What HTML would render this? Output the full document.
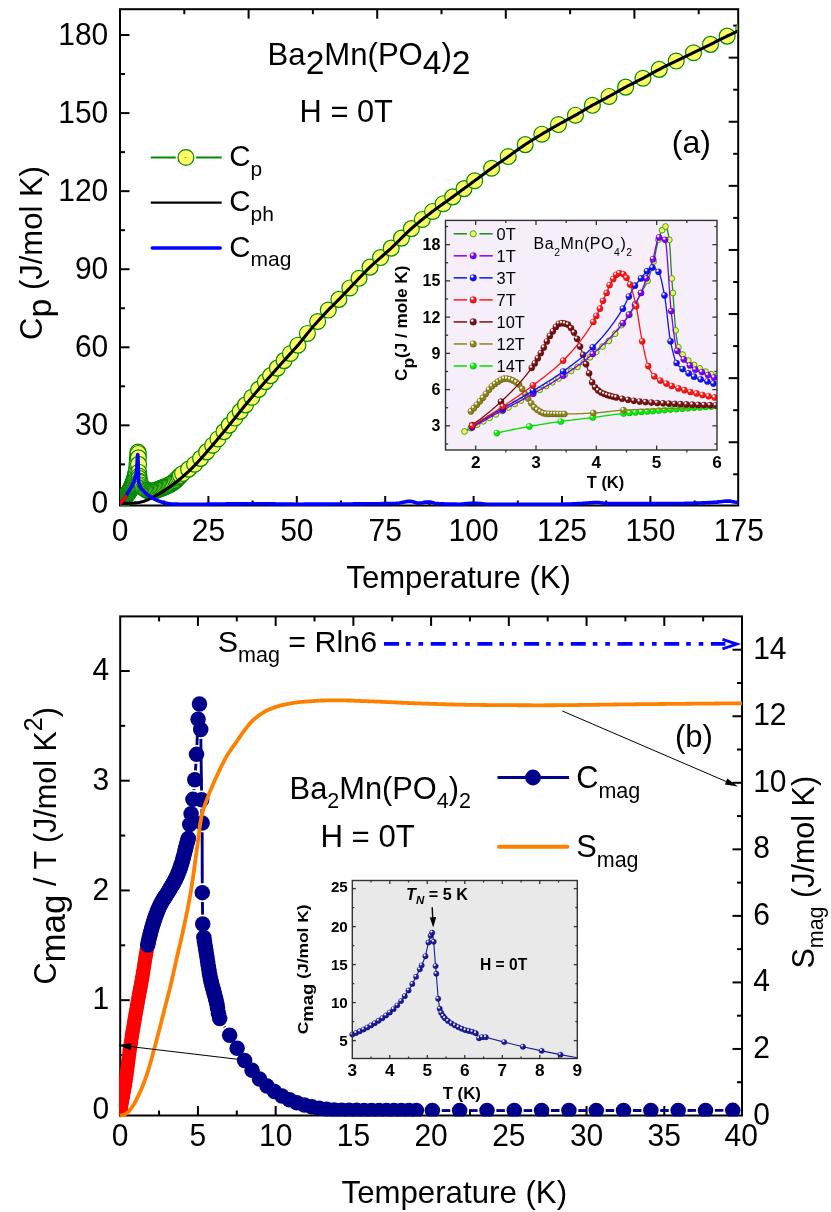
<!DOCTYPE html>
<html><head><meta charset="utf-8"><title>Ba2Mn(PO4)2 heat capacity</title>
<style>
html,body{margin:0;padding:0;background:#fff;}
svg{display:block;will-change:transform;}
text{font-family:"Liberation Sans",sans-serif;}
</style></head><body>
<svg width="831" height="1212" viewBox="0 0 831 1212">
<defs>
<clipPath id="clipA"><rect x="120" y="9.2" width="617.4" height="496.9"/></clipPath>
<radialGradient id="p1" cx="0.38" cy="0.34" r="0.7" fx="0.32" fy="0.27"><stop offset="0" stop-color="#ffffff"/><stop offset="0.12" stop-color="#ffffff"/><stop offset="0.42" stop-color="#8000FF"/><stop offset="0.8" stop-color="#8000FF"/><stop offset="1" stop-color="#4B0096"/></radialGradient>
<radialGradient id="p3" cx="0.38" cy="0.34" r="0.7" fx="0.32" fy="0.27"><stop offset="0" stop-color="#ffffff"/><stop offset="0.12" stop-color="#ffffff"/><stop offset="0.42" stop-color="#1010FF"/><stop offset="0.8" stop-color="#1010FF"/><stop offset="1" stop-color="#0000a0"/></radialGradient>
<radialGradient id="p7" cx="0.38" cy="0.34" r="0.7" fx="0.32" fy="0.27"><stop offset="0" stop-color="#ffffff"/><stop offset="0.12" stop-color="#ffffff"/><stop offset="0.42" stop-color="#FF1414"/><stop offset="0.8" stop-color="#FF1414"/><stop offset="1" stop-color="#b00000"/></radialGradient>
<radialGradient id="p10" cx="0.38" cy="0.34" r="0.7" fx="0.32" fy="0.27"><stop offset="0" stop-color="#ffffff"/><stop offset="0.12" stop-color="#ffffff"/><stop offset="0.42" stop-color="#7A1010"/><stop offset="0.8" stop-color="#7A1010"/><stop offset="1" stop-color="#400000"/></radialGradient>
<radialGradient id="p12" cx="0.38" cy="0.34" r="0.7" fx="0.32" fy="0.27"><stop offset="0" stop-color="#ffffff"/><stop offset="0.12" stop-color="#ffffff"/><stop offset="0.42" stop-color="#8C8418"/><stop offset="0.8" stop-color="#8C8418"/><stop offset="1" stop-color="#5c5600"/></radialGradient>
<radialGradient id="p14" cx="0.38" cy="0.34" r="0.7" fx="0.32" fy="0.27"><stop offset="0" stop-color="#ffffff"/><stop offset="0.12" stop-color="#ffffff"/><stop offset="0.42" stop-color="#00F000"/><stop offset="0.8" stop-color="#00F000"/><stop offset="1" stop-color="#00A000"/></radialGradient>
<radialGradient id="nav" cx="0.38" cy="0.34" r="0.7" fx="0.32" fy="0.27"><stop offset="0" stop-color="#ffffff"/><stop offset="0.12" stop-color="#ffffff"/><stop offset="0.42" stop-color="#1A1AA0"/><stop offset="0.8" stop-color="#1A1AA0"/><stop offset="1" stop-color="#000060"/></radialGradient>
<clipPath id="clipIA"><rect x="445.5" y="220.4" width="271.5" height="229.6"/></clipPath>
<clipPath id="clipB"><rect x="120.2" y="616.4" width="633.8" height="503.1" transform="translate(-1,0)"/></clipPath>
<clipPath id="clipB2"><rect x="119.2" y="616.4" width="622.8" height="500.1"/></clipPath>

</defs>
<rect x="0" y="0" width="831" height="1212" fill="#fff"/>
<g id="panelA">
<rect x="120" y="9.2" width="618.2" height="496.3" fill="none" stroke="#000" stroke-width="2"/>
<line x1="120" y1="503.4" x2="129.5" y2="503.4" stroke="#000" stroke-width="2" />
<line x1="120" y1="464.37" x2="125" y2="464.37" stroke="#000" stroke-width="2" />
<line x1="120" y1="425.34" x2="129.5" y2="425.34" stroke="#000" stroke-width="2" />
<line x1="120" y1="386.31" x2="125" y2="386.31" stroke="#000" stroke-width="2" />
<line x1="120" y1="347.28" x2="129.5" y2="347.28" stroke="#000" stroke-width="2" />
<line x1="120" y1="308.25" x2="125" y2="308.25" stroke="#000" stroke-width="2" />
<line x1="120" y1="269.22" x2="129.5" y2="269.22" stroke="#000" stroke-width="2" />
<line x1="120" y1="230.19" x2="125" y2="230.19" stroke="#000" stroke-width="2" />
<line x1="120" y1="191.16" x2="129.5" y2="191.16" stroke="#000" stroke-width="2" />
<line x1="120" y1="152.13" x2="125" y2="152.13" stroke="#000" stroke-width="2" />
<line x1="120" y1="113.1" x2="129.5" y2="113.1" stroke="#000" stroke-width="2" />
<line x1="120" y1="74.07" x2="125" y2="74.07" stroke="#000" stroke-width="2" />
<line x1="120" y1="35.04" x2="129.5" y2="35.04" stroke="#000" stroke-width="2" />
<line x1="738.2" y1="25.6" x2="733.2" y2="25.6" stroke="#000" stroke-width="2" />
<line x1="738.2" y1="57.65" x2="728.7" y2="57.65" stroke="#000" stroke-width="2" />
<line x1="738.2" y1="89.7" x2="733.2" y2="89.7" stroke="#000" stroke-width="2" />
<line x1="738.2" y1="121.75" x2="728.7" y2="121.75" stroke="#000" stroke-width="2" />
<line x1="738.2" y1="153.8" x2="733.2" y2="153.8" stroke="#000" stroke-width="2" />
<line x1="738.2" y1="185.85" x2="728.7" y2="185.85" stroke="#000" stroke-width="2" />
<line x1="738.2" y1="217.9" x2="733.2" y2="217.9" stroke="#000" stroke-width="2" />
<line x1="738.2" y1="249.95" x2="728.7" y2="249.95" stroke="#000" stroke-width="2" />
<line x1="738.2" y1="282" x2="733.2" y2="282" stroke="#000" stroke-width="2" />
<line x1="738.2" y1="314.05" x2="728.7" y2="314.05" stroke="#000" stroke-width="2" />
<line x1="738.2" y1="346.1" x2="733.2" y2="346.1" stroke="#000" stroke-width="2" />
<line x1="738.2" y1="378.15" x2="728.7" y2="378.15" stroke="#000" stroke-width="2" />
<line x1="738.2" y1="410.2" x2="733.2" y2="410.2" stroke="#000" stroke-width="2" />
<line x1="738.2" y1="442.25" x2="728.7" y2="442.25" stroke="#000" stroke-width="2" />
<line x1="738.2" y1="474.3" x2="733.2" y2="474.3" stroke="#000" stroke-width="2" />
<line x1="164.2" y1="505.5" x2="164.2" y2="500.5" stroke="#000" stroke-width="2" />
<line x1="208.4" y1="505.5" x2="208.4" y2="496" stroke="#000" stroke-width="2" />
<line x1="252.6" y1="505.5" x2="252.6" y2="500.5" stroke="#000" stroke-width="2" />
<line x1="296.8" y1="505.5" x2="296.8" y2="496" stroke="#000" stroke-width="2" />
<line x1="341" y1="505.5" x2="341" y2="500.5" stroke="#000" stroke-width="2" />
<line x1="385.2" y1="505.5" x2="385.2" y2="496" stroke="#000" stroke-width="2" />
<line x1="429.4" y1="505.5" x2="429.4" y2="500.5" stroke="#000" stroke-width="2" />
<line x1="473.6" y1="505.5" x2="473.6" y2="496" stroke="#000" stroke-width="2" />
<line x1="517.8" y1="505.5" x2="517.8" y2="500.5" stroke="#000" stroke-width="2" />
<line x1="562" y1="505.5" x2="562" y2="496" stroke="#000" stroke-width="2" />
<line x1="606.2" y1="505.5" x2="606.2" y2="500.5" stroke="#000" stroke-width="2" />
<line x1="650.4" y1="505.5" x2="650.4" y2="496" stroke="#000" stroke-width="2" />
<line x1="694.6" y1="505.5" x2="694.6" y2="500.5" stroke="#000" stroke-width="2" />
<line x1="184.3" y1="9.2" x2="184.3" y2="14.2" stroke="#000" stroke-width="2" />
<line x1="248.6" y1="9.2" x2="248.6" y2="18.7" stroke="#000" stroke-width="2" />
<line x1="312.9" y1="9.2" x2="312.9" y2="14.2" stroke="#000" stroke-width="2" />
<line x1="377.2" y1="9.2" x2="377.2" y2="18.7" stroke="#000" stroke-width="2" />
<line x1="441.5" y1="9.2" x2="441.5" y2="14.2" stroke="#000" stroke-width="2" />
<line x1="505.8" y1="9.2" x2="505.8" y2="18.7" stroke="#000" stroke-width="2" />
<line x1="570.1" y1="9.2" x2="570.1" y2="14.2" stroke="#000" stroke-width="2" />
<line x1="634.4" y1="9.2" x2="634.4" y2="18.7" stroke="#000" stroke-width="2" />
<line x1="698.7" y1="9.2" x2="698.7" y2="14.2" stroke="#000" stroke-width="2" />
<g clip-path="url(#clipA)">
<polyline points="121.41,501.84 121.77,501.37 122.12,500.84 122.48,500.3 122.83,499.74 123.18,499.21 123.54,498.72 123.89,498.27 124.24,497.84 124.6,497.43 124.95,497.04 125.3,496.65 125.66,496.26 126.01,495.87 126.36,495.45 126.72,495.02 127.07,494.55 127.43,494.07 127.78,493.56 128.13,493.05 128.49,492.51 128.84,491.96 129.19,491.38 129.55,490.78 129.9,490.16 130.25,489.51 130.61,488.83 130.96,488.12 131.32,487.37 131.67,486.59 132.02,485.77 132.38,484.91 132.73,484.01 133.08,483.07 133.44,482.08 133.79,481.05 134.14,479.98 134.5,478.86 134.85,477.67 135.2,476.36 135.56,474.89 135.91,473.22 136.27,471.2 136.62,468.53 136.97,464.37 137.33,459.69 137.68,455.52 137.96,452.01 138.21,453.44 138.39,457.87 138.56,464.37 138.74,472.18 138.92,476.01 139.09,478.42 139.45,481.02 139.8,482.28 141.07,484.97 142.35,486.68 143.62,487.96 144.89,488.93 146.17,489.74 147.44,490.38 148.71,490.75 149.99,491 151.26,491.15 152.53,491.14 153.8,490.97 155.08,490.71 156.35,490.28 157.62,489.61 158.9,489.07 160.17,488.62 161.44,488.17 162.71,487.67 163.99,487.15 165.26,486.62 166.53,486.07 167.81,485.5 169.08,484.88 170.35,484.22 171.63,483.5 172.9,482.71 174.17,481.75 175.44,480.61 176.72,479.35 177.99,478.02 179.26,476.67 180.54,475.37 182.59,473.48 188.6,469.13 194.61,464.27 200.62,458.36 206.63,451.88 212.64,445.19 217.95,438.94 223.96,431.59 229.26,425.08 234.92,418.05 240.22,411.4 245.53,404.86 251.89,397.25 258.61,389.38 265.33,381.63 270.63,375.62 277.35,368.1 284.07,360.61 290.44,353.52 297.86,345.2 307.41,333.47 317.66,321.49 328.27,310.07 338.88,299.4 349.84,287.95 359.03,278.28 370,267.14 380.6,257.56 391.21,248.14 401.47,238.09 411.37,228.63 422.33,219.44 432.58,211.46 443.19,203.71 452.74,196.88 464.05,188.58 474.66,180.75 491.63,168.26 508.25,156.55 525.23,144.58 541.84,134.18 558.46,124.55 575.44,115.18 592.41,105.29 609.03,96.45 625.65,87.08 642.97,78.23 659.24,69.39 676.21,61.06 693.54,52.73 710.51,44.41 727.13,36.08 743.75,28.43" fill="none" stroke="#058805" stroke-width="1.5" stroke-linejoin="round" />
<g fill="#FFFF66" stroke="#058805" stroke-width="1.2">
<circle cx="121.41" cy="501.84" r="7.95"/>
<circle cx="121.77" cy="501.37" r="7.95"/>
<circle cx="122.12" cy="500.84" r="7.95"/>
<circle cx="122.48" cy="500.3" r="7.95"/>
<circle cx="122.83" cy="499.74" r="7.95"/>
<circle cx="123.18" cy="499.21" r="7.95"/>
<circle cx="123.54" cy="498.72" r="7.95"/>
<circle cx="123.89" cy="498.27" r="7.95"/>
<circle cx="124.24" cy="497.84" r="7.95"/>
<circle cx="124.6" cy="497.43" r="7.95"/>
<circle cx="124.95" cy="497.04" r="7.95"/>
<circle cx="125.3" cy="496.65" r="7.95"/>
<circle cx="125.66" cy="496.26" r="7.95"/>
<circle cx="126.01" cy="495.87" r="7.95"/>
<circle cx="126.36" cy="495.45" r="7.95"/>
<circle cx="126.72" cy="495.02" r="7.95"/>
<circle cx="127.07" cy="494.55" r="7.95"/>
<circle cx="127.43" cy="494.07" r="7.95"/>
<circle cx="127.78" cy="493.56" r="7.95"/>
<circle cx="128.13" cy="493.05" r="7.95"/>
<circle cx="128.49" cy="492.51" r="7.95"/>
<circle cx="128.84" cy="491.96" r="7.95"/>
<circle cx="129.19" cy="491.38" r="7.95"/>
<circle cx="129.55" cy="490.78" r="7.95"/>
<circle cx="129.9" cy="490.16" r="7.95"/>
<circle cx="130.25" cy="489.51" r="7.95"/>
<circle cx="130.61" cy="488.83" r="7.95"/>
<circle cx="130.96" cy="488.12" r="7.95"/>
<circle cx="131.32" cy="487.37" r="7.95"/>
<circle cx="131.67" cy="486.59" r="7.95"/>
<circle cx="132.02" cy="485.77" r="7.95"/>
<circle cx="132.38" cy="484.91" r="7.95"/>
<circle cx="132.73" cy="484.01" r="7.95"/>
<circle cx="133.08" cy="483.07" r="7.95"/>
<circle cx="133.44" cy="482.08" r="7.95"/>
<circle cx="133.79" cy="481.05" r="7.95"/>
<circle cx="134.14" cy="479.98" r="7.95"/>
<circle cx="134.5" cy="478.86" r="7.95"/>
<circle cx="134.85" cy="477.67" r="7.95"/>
<circle cx="135.2" cy="476.36" r="7.95"/>
<circle cx="135.56" cy="474.89" r="7.95"/>
<circle cx="135.91" cy="473.22" r="7.95"/>
<circle cx="136.27" cy="471.2" r="7.95"/>
<circle cx="136.62" cy="468.53" r="7.95"/>
<circle cx="136.97" cy="464.37" r="7.95"/>
<circle cx="137.33" cy="459.69" r="7.95"/>
<circle cx="137.68" cy="455.52" r="7.95"/>
<circle cx="137.96" cy="452.01" r="7.95"/>
<circle cx="138.21" cy="453.44" r="7.95"/>
<circle cx="138.39" cy="457.87" r="7.95"/>
<circle cx="138.56" cy="464.37" r="7.95"/>
<circle cx="138.74" cy="472.18" r="7.95"/>
<circle cx="138.92" cy="476.01" r="7.95"/>
<circle cx="139.09" cy="478.42" r="7.95"/>
<circle cx="139.45" cy="481.02" r="7.95"/>
<circle cx="139.8" cy="482.28" r="7.95"/>
<circle cx="141.07" cy="484.97" r="7.95"/>
<circle cx="142.35" cy="486.68" r="7.95"/>
<circle cx="143.62" cy="487.96" r="7.95"/>
<circle cx="144.89" cy="488.93" r="7.95"/>
<circle cx="146.17" cy="489.74" r="7.95"/>
<circle cx="147.44" cy="490.38" r="7.95"/>
<circle cx="148.71" cy="490.75" r="7.95"/>
<circle cx="149.99" cy="491" r="7.95"/>
<circle cx="151.26" cy="491.15" r="7.95"/>
<circle cx="152.53" cy="491.14" r="7.95"/>
<circle cx="153.8" cy="490.97" r="7.95"/>
<circle cx="155.08" cy="490.71" r="7.95"/>
<circle cx="156.35" cy="490.28" r="7.95"/>
<circle cx="157.62" cy="489.61" r="7.95"/>
<circle cx="158.9" cy="489.07" r="7.95"/>
<circle cx="160.17" cy="488.62" r="7.95"/>
<circle cx="161.44" cy="488.17" r="7.95"/>
<circle cx="162.71" cy="487.67" r="7.95"/>
<circle cx="163.99" cy="487.15" r="7.95"/>
<circle cx="165.26" cy="486.62" r="7.95"/>
<circle cx="166.53" cy="486.07" r="7.95"/>
<circle cx="167.81" cy="485.5" r="7.95"/>
<circle cx="169.08" cy="484.88" r="7.95"/>
<circle cx="170.35" cy="484.22" r="7.95"/>
<circle cx="171.63" cy="483.5" r="7.95"/>
<circle cx="172.9" cy="482.71" r="7.95"/>
<circle cx="174.17" cy="481.75" r="7.95"/>
<circle cx="175.44" cy="480.61" r="7.95"/>
<circle cx="176.72" cy="479.35" r="7.95"/>
<circle cx="177.99" cy="478.02" r="7.95"/>
<circle cx="179.26" cy="476.67" r="7.95"/>
<circle cx="180.54" cy="475.37" r="7.95"/>
<circle cx="182.59" cy="473.48" r="7.95"/>
<circle cx="188.6" cy="469.13" r="7.95"/>
<circle cx="194.61" cy="464.27" r="7.95"/>
<circle cx="200.62" cy="458.36" r="7.95"/>
<circle cx="206.63" cy="451.88" r="7.95"/>
<circle cx="212.64" cy="445.19" r="7.95"/>
<circle cx="217.95" cy="438.94" r="7.95"/>
<circle cx="223.96" cy="431.59" r="7.95"/>
<circle cx="229.26" cy="425.08" r="7.95"/>
<circle cx="234.92" cy="418.05" r="7.95"/>
<circle cx="240.22" cy="411.4" r="7.95"/>
<circle cx="245.53" cy="404.86" r="7.95"/>
<circle cx="251.89" cy="397.25" r="7.95"/>
<circle cx="258.61" cy="389.38" r="7.95"/>
<circle cx="265.33" cy="381.63" r="7.95"/>
<circle cx="270.63" cy="375.62" r="7.95"/>
<circle cx="277.35" cy="368.1" r="7.95"/>
<circle cx="284.07" cy="360.61" r="7.95"/>
<circle cx="290.44" cy="353.52" r="7.95"/>
<circle cx="297.86" cy="345.2" r="7.95"/>
<circle cx="307.41" cy="333.47" r="7.95"/>
<circle cx="317.66" cy="321.49" r="7.95"/>
<circle cx="328.27" cy="310.07" r="7.95"/>
<circle cx="338.88" cy="299.4" r="7.95"/>
<circle cx="349.84" cy="287.95" r="7.95"/>
<circle cx="359.03" cy="278.28" r="7.95"/>
<circle cx="370" cy="267.14" r="7.95"/>
<circle cx="380.6" cy="257.56" r="7.95"/>
<circle cx="391.21" cy="248.14" r="7.95"/>
<circle cx="401.47" cy="238.09" r="7.95"/>
<circle cx="411.37" cy="228.63" r="7.95"/>
<circle cx="422.33" cy="219.44" r="7.95"/>
<circle cx="432.58" cy="211.46" r="7.95"/>
<circle cx="443.19" cy="203.71" r="7.95"/>
<circle cx="452.74" cy="196.88" r="7.95"/>
<circle cx="464.05" cy="188.58" r="7.95"/>
<circle cx="474.66" cy="180.75" r="7.95"/>
<circle cx="491.63" cy="168.26" r="7.95"/>
<circle cx="508.25" cy="156.55" r="7.95"/>
<circle cx="525.23" cy="144.58" r="7.95"/>
<circle cx="541.84" cy="134.18" r="7.95"/>
<circle cx="558.46" cy="124.55" r="7.95"/>
<circle cx="575.44" cy="115.18" r="7.95"/>
<circle cx="592.41" cy="105.29" r="7.95"/>
<circle cx="609.03" cy="96.45" r="7.95"/>
<circle cx="625.65" cy="87.08" r="7.95"/>
<circle cx="642.97" cy="78.23" r="7.95"/>
<circle cx="659.24" cy="69.39" r="7.95"/>
<circle cx="676.21" cy="61.06" r="7.95"/>
<circle cx="693.54" cy="52.73" r="7.95"/>
<circle cx="710.51" cy="44.41" r="7.95"/>
<circle cx="727.13" cy="36.08" r="7.95"/>
<circle cx="743.75" cy="28.43" r="7.95"/>
</g>
<polyline points="120,503.4 121.55,503.4 123.11,503.39 124.66,503.37 126.22,503.35 127.77,503.33 129.33,503.3 130.88,503.26 132.44,503.18 133.99,503.06 135.54,502.89 137.1,502.69 138.65,502.48 140.21,502.19 141.76,501.83 143.32,501.42 144.87,500.93 146.43,500.31 147.98,499.63 149.53,498.94 151.09,498.2 152.64,497.43 154.2,496.62 155.75,495.77 157.31,494.89 158.86,493.98 160.41,493.03 161.97,492.06 163.52,491.07 165.08,490.04 166.63,488.99 168.19,487.92 169.74,486.82 171.3,485.7 172.85,484.56 174.4,483.4 175.96,482.21 177.51,480.98 179.07,479.73 180.62,478.44 182.18,477.13 183.73,475.78 185.29,474.41 186.84,473.01 188.39,471.57 189.95,470.11 191.5,468.62 193.06,467.1 194.61,465.53 196.17,463.9 197.72,462.22 199.28,460.51 200.83,458.76 202.38,456.99 203.94,455.2 205.49,453.4 207.05,451.59 208.6,449.79 210.16,447.99 211.71,446.19 213.27,444.37 214.82,442.54 216.37,440.69 217.93,438.84 219.48,436.97 221.04,435.09 222.59,433.21 224.15,431.32 225.7,429.43 227.26,427.53 228.81,425.64 230.36,423.73 231.92,421.8 233.47,419.86 235.03,417.91 236.58,415.96 238.14,414.01 239.69,412.06 241.24,410.13 242.8,408.2 244.35,406.29 245.91,404.4 247.46,402.53 249.02,400.67 250.57,398.81 252.13,396.97 253.68,395.14 255.23,393.31 256.79,391.5 258.34,389.69 259.9,387.88 261.45,386.09 263.01,384.29 264.56,382.51 266.12,380.73 267.67,378.96 269.22,377.2 270.78,375.45 272.33,373.71 273.89,371.97 275.44,370.23 277,368.49 278.55,366.75 280.11,365.02 281.66,363.29 283.21,361.56 284.77,359.83 286.32,358.1 287.88,356.37 289.43,354.64 290.99,352.91 292.54,351.19 294.1,349.46 295.65,347.73 297.2,345.96 298.76,344.14 300.31,342.28 301.87,340.38 303.42,338.45 304.98,336.5 306.53,334.56 308.09,332.63 309.64,330.73 311.19,328.87 312.75,327.05 314.3,325.27 315.86,323.51 317.41,321.77 318.97,320.05 320.52,318.34 322.07,316.66 323.63,314.98 325.18,313.32 326.74,311.68 328.29,310.05 329.85,308.44 331.4,306.87 332.96,305.32 334.51,303.78 336.06,302.24 337.62,300.68 339.17,299.1 340.73,297.5 342.28,295.88 343.84,294.25 345.39,292.61 346.95,290.98 348.5,289.35 350.05,287.73 351.61,286.11 353.16,284.47 354.72,282.83 356.27,281.19 357.83,279.55 359.38,277.91 360.94,276.28 362.49,274.66 364.04,273.06 365.6,271.48 367.15,269.92 368.71,268.39 370.26,266.88 371.82,265.41 373.37,263.98 374.93,262.57 376.48,261.18 378.03,259.81 379.59,258.45 381.14,257.09 382.7,255.74 384.25,254.39 385.81,253.02 387.36,251.65 388.92,250.25 390.47,248.83 392.02,247.38 393.58,245.9 395.13,244.39 396.69,242.86 398.24,241.31 399.8,239.76 401.35,238.2 402.9,236.65 404.46,235.12 406.01,233.6 407.57,232.11 409.12,230.66 410.68,229.24 412.23,227.87 413.79,226.52 415.34,225.19 416.89,223.88 418.45,222.59 420,221.32 421.56,220.06 423.11,218.82 424.67,217.58 426.22,216.36 427.78,215.15 429.33,213.95 430.88,212.75 432.44,211.57 433.99,210.39 435.55,209.23 437.1,208.08 438.66,206.95 440.21,205.83 441.77,204.72 443.32,203.62 444.87,202.51 446.43,201.41 447.98,200.3 449.54,199.19 451.09,198.08 452.65,196.95 454.2,195.82 455.76,194.68 457.31,193.54 458.86,192.4 460.42,191.25 461.97,190.11 463.53,188.96 465.08,187.82 466.64,186.67 468.19,185.52 469.74,184.38 471.3,183.23 472.85,182.08 474.41,180.94 475.96,179.79 477.52,178.64 479.07,177.49 480.63,176.34 482.18,175.19 483.73,174.04 485.29,172.89 486.84,171.75 488.4,170.61 489.95,169.48 491.51,168.35 493.06,167.24 494.62,166.13 496.17,165.03 497.72,163.93 499.28,162.84 500.83,161.75 502.39,160.67 503.94,159.58 505.5,158.49 507.05,157.4 508.61,156.3 510.16,155.2 511.71,154.09 513.27,152.97 514.82,151.86 516.38,150.74 517.93,149.63 519.49,148.53 521.04,147.44 522.6,146.36 524.15,145.3 525.7,144.27 527.26,143.25 528.81,142.24 530.37,141.25 531.92,140.26 533.48,139.29 535.03,138.32 536.59,137.37 538.14,136.42 539.69,135.47 541.25,134.54 542.8,133.6 544.36,132.68 545.91,131.76 547.47,130.85 549.02,129.94 550.57,129.04 552.13,128.15 553.68,127.26 555.24,126.38 556.79,125.49 558.35,124.61 559.9,123.74 561.46,122.88 563.01,122.02 564.56,121.17 566.12,120.32 567.67,119.47 569.23,118.63 570.78,117.77 572.34,116.92 573.89,116.05 575.45,115.18 577,114.29 578.55,113.39 580.11,112.47 581.66,111.56 583.22,110.63 584.77,109.71 586.33,108.79 587.88,107.88 589.44,106.98 590.99,106.09 592.54,105.22 594.1,104.36 595.65,103.52 597.21,102.7 598.76,101.88 600.32,101.06 601.87,100.25 603.43,99.44 604.98,98.62 606.53,97.79 608.09,96.96 609.64,96.11 611.2,95.24 612.75,94.37 614.31,93.48 615.86,92.59 617.42,91.7 618.97,90.8 620.52,89.92 622.08,89.04 623.63,88.18 625.19,87.33 626.74,86.5 628.3,85.69 629.85,84.89 631.4,84.1 632.96,83.31 634.51,82.54 636.07,81.76 637.62,80.98 639.18,80.19 640.73,79.4 642.29,78.59 643.84,77.77 645.39,76.94 646.95,76.09 648.5,75.23 650.06,74.37 651.61,73.51 653.17,72.65 654.72,71.79 656.28,70.95 657.83,70.12 659.38,69.31 660.94,68.52 662.49,67.73 664.05,66.96 665.6,66.19 667.16,65.44 668.71,64.68 670.27,63.93 671.82,63.18 673.37,62.43 674.93,61.68 676.48,60.93 678.04,60.18 679.59,59.43 681.15,58.68 682.7,57.94 684.26,57.19 685.81,56.45 687.36,55.71 688.92,54.96 690.47,54.22 692.03,53.47 693.58,52.71 695.14,51.96 696.69,51.2 698.25,50.44 699.8,49.68 701.35,48.92 702.91,48.16 704.46,47.39 706.02,46.63 707.57,45.86 709.13,45.09 710.68,44.32 712.23,43.55 713.79,42.77 715.34,41.98 716.9,41.19 718.45,40.4 720.01,39.61 721.56,38.83 723.12,38.05 724.67,37.28 726.22,36.52 727.78,35.77 729.33,35.03 730.89,34.29 732.44,33.56 734,32.84 735.55,32.12 737.11,31.41 738.66,30.7 740.21,30" fill="none" stroke="#000" stroke-width="3.1" stroke-linejoin="round" />
<polyline points="120,503.4 120.28,503.13 120.57,502.86 120.85,502.58 121.14,502.28 121.42,501.98 121.71,501.67 121.99,501.35 122.27,501.03 122.56,500.69 122.84,500.35 123.13,499.99 123.41,499.63 123.7,499.26 123.98,498.88 124.26,498.49 124.55,498.07 124.83,497.65 125.12,497.21 125.4,496.77 125.69,496.31 125.97,495.84 126.25,495.37 126.54,494.89 126.82,494.4 127.11,493.91 127.39,493.42 127.68,492.92 127.96,492.43 128.24,491.93 128.53,491.44 128.81,490.94 129.1,490.45 129.38,489.97 129.67,489.49 129.95,489.02 130.23,488.56 130.52,488.1 130.8,487.63 131.09,487.16 131.37,486.68 131.66,486.19 131.94,485.68 132.22,485.15 132.51,484.59 132.79,484.01 133.08,483.43 133.36,482.84 133.65,482.24 133.93,481.6 134.22,480.91 134.5,480.16 134.78,479.32 135.07,478.39 135.35,477.33 135.64,476.04 135.92,474.49 136.21,472.69 136.49,470.61 136.77,467.89 137.06,463.32 137.34,458.31 137.63,454.6 137.91,454.99 138.2,466.48 138.48,476.3 138.76,482.21 139.05,483.71 139.33,484.82 139.62,485.62 139.9,486.23 140.19,486.72 140.47,487.2 140.75,487.7 141.04,488.16 141.32,488.59 141.61,488.98 141.89,489.34 142.18,489.68 142.46,490 142.74,490.31 143.03,490.6 143.31,490.88 143.6,491.16 143.88,491.44 144.17,491.72 144.45,492 144.73,492.27 145.02,492.53 145.3,492.79 145.59,493.04 145.87,493.29 146.16,493.54 146.44,493.78 146.72,494.01 147.01,494.24 147.29,494.47 147.58,494.69 147.86,494.91 148.15,495.13 148.43,495.34 148.71,495.54 149,495.75 149.28,495.95 149.57,496.14 149.85,496.34 150.14,496.53 150.42,496.71 150.7,496.9 150.99,497.08 151.27,497.25 151.56,497.43 151.84,497.6 152.13,497.77 152.41,497.94 152.69,498.11 152.98,498.27 153.26,498.43 153.55,498.59 153.83,498.75 154.12,498.91 154.4,499.06 154.68,499.21 154.97,499.35 155.25,499.5 155.54,499.64 155.82,499.78 156.11,499.91 156.39,500.04 156.67,500.17 156.96,500.3 157.24,500.42 157.53,500.54 157.81,500.65 158.1,500.76 158.38,500.87 158.67,500.98 158.95,501.08 159.23,501.19 159.52,501.29 159.8,501.4 160.09,501.5 160.37,501.6 160.66,501.69 160.94,501.79 161.22,501.89 161.51,501.98 161.79,502.07 162.08,502.16 162.36,502.25 162.65,502.33 162.93,502.41 163.21,502.49 163.5,502.57 163.78,502.65 164.07,502.72 164.35,502.79 164.64,502.86 164.92,502.92 165.2,502.99 165.49,503.05 165.77,503.1 166.06,503.16 166.34,503.21 166.63,503.26 166.91,503.31 167.19,503.37 167.48,503.42 167.76,503.47 168.05,503.52 168.33,503.57 168.62,503.61 168.9,503.66 169.18,503.7 169.47,503.75 169.75,503.79 170.04,503.83 170.32,503.86 170.61,503.9 170.89,503.93 171.17,503.95 171.46,503.98 171.74,504 172.03,504.02 172.31,504.04 172.6,504.05 172.88,504.06 173.16,504.06 173.45,504.07 173.73,504.08 174.02,504.09 174.3,504.1 174.59,504.1 174.87,504.11 175.15,504.12 175.44,504.13 175.72,504.13 176.01,504.14 176.29,504.15 176.58,504.15 177.28,504.17 179.05,504.2 180.81,504.23 182.57,504.26 184.34,504.28 186.1,504.29 187.86,504.3 189.63,504.31 191.39,504.31 193.16,504.31 194.92,504.3 196.68,504.29 198.45,504.27 200.21,504.25 201.97,504.23 203.74,504.21 205.5,504.18 207.26,504.16 209.03,504.13 210.79,504.1 212.55,504.08 214.32,504.05 216.08,504.02 217.85,504 219.61,503.98 221.37,503.96 223.14,503.94 224.9,503.93 226.66,503.92 228.43,503.91 230.19,503.9 231.95,503.89 233.72,503.88 235.48,503.87 237.24,503.86 239.01,503.85 240.77,503.84 242.54,503.84 244.3,503.83 246.06,503.82 247.83,503.82 249.59,503.81 251.35,503.8 253.12,503.8 254.88,503.8 256.64,503.79 258.41,503.79 260.17,503.79 261.93,503.79 263.7,503.79 265.46,503.8 267.23,503.82 268.99,503.84 270.75,503.86 272.52,503.88 274.28,503.91 276.04,503.94 277.81,503.96 279.57,503.99 281.33,504.02 283.1,504.05 284.86,504.08 286.62,504.1 288.39,504.12 290.15,504.14 291.91,504.16 293.68,504.17 295.44,504.18 297.21,504.18 298.97,504.18 300.73,504.18 302.5,504.18 304.26,504.17 306.02,504.17 307.79,504.16 309.55,504.16 311.31,504.15 313.08,504.14 314.84,504.14 316.6,504.13 318.37,504.12 320.13,504.11 321.9,504.1 323.66,504.09 325.42,504.08 327.19,504.08 328.95,504.07 330.71,504.06 332.48,504.05 334.24,504.04 336,504.03 337.77,504.02 339.53,504.01 341.29,504 343.06,503.99 344.82,503.98 346.59,503.96 348.35,503.95 350.11,503.94 351.88,503.93 353.64,503.91 355.4,503.9 357.17,503.88 358.93,503.87 360.69,503.85 362.46,503.84 364.22,503.82 365.98,503.81 367.75,503.79 369.51,503.77 371.28,503.76 373.04,503.74 374.8,503.73 376.57,503.71 378.33,503.69 380.09,503.68 381.86,503.66 383.62,503.64 385.38,503.61 387.15,503.59 388.91,503.56 390.67,503.52 392.44,503.48 394.2,503.44 395.97,503.39 397.73,503.26 399.49,502.99 401.26,502.65 403.02,502.28 404.78,501.92 406.55,501.6 408.31,501.39 410.07,501.32 411.84,501.53 413.6,501.99 415.36,502.53 417.13,502.97 418.89,503.14 420.66,503.01 422.42,502.71 424.18,502.36 425.95,502.08 427.71,501.97 429.47,502.09 431.24,502.38 433,502.77 434.76,503.16 436.53,503.49 438.29,503.66 440.05,503.74 441.82,503.81 443.58,503.88 445.35,503.94 447.11,504 448.87,504.04 450.64,504.08 452.4,504.12 454.16,504.15 455.93,504.16 457.69,504.18 459.45,504.18 461.22,504.14 462.98,504.02 464.74,503.85 466.51,503.66 468.27,503.47 470.04,503.3 471.8,503.19 473.56,503.14 475.33,503.18 477.09,503.29 478.85,503.45 480.62,503.64 482.38,503.83 484.14,504 485.91,504.12 487.67,504.18 489.43,504.19 491.2,504.2 492.96,504.22 494.73,504.23 496.49,504.24 498.25,504.25 500.02,504.25 501.78,504.26 503.54,504.27 505.31,504.28 507.07,504.28 508.83,504.29 510.6,504.29 512.36,504.3 514.12,504.3 515.89,504.3 517.65,504.3 519.42,504.31 521.18,504.31 522.94,504.31 524.71,504.31 526.47,504.31 528.23,504.31 530,504.31 531.76,504.31 533.52,504.31 535.29,504.3 537.05,504.3 538.81,504.29 540.58,504.29 542.34,504.28 544.1,504.28 545.87,504.27 547.63,504.26 549.4,504.26 551.16,504.25 552.92,504.24 554.69,504.23 556.45,504.22 558.21,504.21 559.98,504.19 561.74,504.18 563.5,504.16 565.27,504.13 567.03,504.09 568.79,504.03 570.56,503.97 572.32,503.89 574.09,503.81 575.85,503.72 577.61,503.63 579.38,503.54 581.14,503.44 582.9,503.34 584.67,503.25 586.43,503.16 588.19,503.05 589.96,502.92 591.72,502.77 593.48,502.64 595.25,502.54 597.01,502.49 598.78,502.55 600.54,502.74 602.3,503.02 604.07,503.3 605.83,503.54 607.59,503.66 609.36,503.66 611.12,503.66 612.88,503.66 614.65,503.66 616.41,503.66 618.17,503.66 619.94,503.66 621.7,503.66 623.47,503.66 625.23,503.66 626.99,503.66 628.76,503.66 630.52,503.66 632.28,503.66 634.05,503.66 635.81,503.66 637.57,503.66 639.34,503.66 641.1,503.66 642.86,503.66 644.63,503.66 646.39,503.66 648.16,503.66 649.92,503.66 651.68,503.66 653.45,503.66 655.21,503.65 656.97,503.65 658.74,503.64 660.5,503.63 662.26,503.63 664.03,503.61 665.79,503.6 667.55,503.59 669.32,503.58 671.08,503.56 672.85,503.54 674.61,503.53 676.37,503.51 678.14,503.49 679.9,503.47 681.66,503.45 683.43,503.43 685.19,503.41 686.95,503.38 688.72,503.35 690.48,503.32 692.24,503.28 694.01,503.23 695.77,503.17 697.54,503.12 699.3,503.05 701.06,502.98 702.83,502.91 704.59,502.84 706.35,502.75 708.12,502.67 709.88,502.58 711.64,502.49 713.41,502.39 715.17,502.28 716.93,502.12 718.7,501.91 720.46,501.69 722.23,501.48 723.99,501.29 725.75,501.14 727.52,501.07 729.28,501.11 731.04,501.34 732.81,501.68 734.57,502 736.33,502.23 738.1,502.43 739.86,502.62" fill="none" stroke="#0000FF" stroke-width="3.6" stroke-linejoin="round" stroke-linecap="round"/>
<polyline points="120,503.4 120.51,502.91 121.03,502.4 121.54,501.85 122.06,501.28 122.57,500.68 123.09,500.05 123.6,499.39 124.11,498.7 124.63,497.96 125.14,497.17 125.66,496.36" fill="none" stroke="#FF0000" stroke-width="3.4" stroke-linejoin="round" stroke-linecap="round"/>
</g>
<text transform="translate(108.3,513.3) scale(0.958,1)" font-size="31.3" text-anchor="end">0</text>
<text transform="translate(108.3,435.24) scale(0.958,1)" font-size="31.3" text-anchor="end">30</text>
<text transform="translate(108.3,357.18) scale(0.958,1)" font-size="31.3" text-anchor="end">60</text>
<text transform="translate(108.3,279.12) scale(0.958,1)" font-size="31.3" text-anchor="end">90</text>
<text transform="translate(108.3,201.06) scale(0.958,1)" font-size="31.3" text-anchor="end">120</text>
<text transform="translate(108.3,123) scale(0.958,1)" font-size="31.3" text-anchor="end">150</text>
<text transform="translate(108.3,44.94) scale(0.958,1)" font-size="31.3" text-anchor="end">180</text>
<text transform="translate(120,540.8) scale(0.958,1)" font-size="31.3" text-anchor="middle">0</text>
<text transform="translate(208.4,540.8) scale(0.958,1)" font-size="31.3" text-anchor="middle">25</text>
<text transform="translate(296.8,540.8) scale(0.958,1)" font-size="31.3" text-anchor="middle">50</text>
<text transform="translate(385.2,540.8) scale(0.958,1)" font-size="31.3" text-anchor="middle">75</text>
<text transform="translate(473.6,540.8) scale(0.958,1)" font-size="31.3" text-anchor="middle">100</text>
<text transform="translate(562,540.8) scale(0.958,1)" font-size="31.3" text-anchor="middle">125</text>
<text transform="translate(650.4,540.8) scale(0.958,1)" font-size="31.3" text-anchor="middle">150</text>
<text transform="translate(738.8,540.8) scale(0.958,1)" font-size="31.3" text-anchor="middle">175</text>
<text x="458.6" y="587.8" font-size="30.5" text-anchor="middle" font-weight="normal" fill="#000" textLength="224.5" lengthAdjust="spacingAndGlyphs">Temperature (K)</text>
<g transform="translate(42.3,340) rotate(-90)">
<text x="0" y="0" font-size="31"><tspan>C</tspan><tspan font-size="34" dy="9">p</tspan><tspan dy="-9"> (J/mol K)</tspan></text>
</g>
<text x="267.6" y="64.8" font-size="31.1">Ba<tspan font-size="33.6" dy="8.9">2</tspan><tspan dy="-8.9">Mn(PO</tspan><tspan font-size="33.6" dy="8.9">4</tspan><tspan dy="-8.9">)</tspan><tspan font-size="33.6" dy="8.9">2</tspan></text>
<text x="299.6" y="121.9" font-size="30.8" text-anchor="start" font-weight="normal" fill="#000" >H = 0T</text>
<text x="671.8" y="152.7" font-size="32" text-anchor="start" font-weight="normal" fill="#000" >(a)</text>
<line x1="150.8" y1="157.5" x2="221.7" y2="157.5" stroke="#058805" stroke-width="2.2" />
<circle cx="185.9" cy="157.5" r="10.2" fill="#fff"/>
<circle cx="185.9" cy="157.5" r="7.9" fill="#FFFF66" stroke="#058805" stroke-width="1.2"/>
<circle cx="185.9" cy="157.5" r="0.6" fill="#058805"/>
<line x1="150.8" y1="202.6" x2="221.7" y2="202.6" stroke="#000" stroke-width="2.2" />
<line x1="152.3" y1="248" x2="220.2" y2="248" stroke="#0000FF" stroke-width="3.5" stroke-linecap="round"/>
<text x="229.3" y="166.2" font-size="29.5">C<tspan font-size="21" dy="9.6">p</tspan></text>
<text x="229.3" y="211.3" font-size="29.5">C<tspan font-size="21" dy="9.6">ph</tspan></text>
<text x="229.3" y="256.7" font-size="29.5">C<tspan font-size="21" dy="9.6">mag</tspan></text>
</g>
<g id="insetA">
<rect x="445.5" y="220.4" width="271.5" height="229.6" fill="#F6EEF8" stroke="none"/>
<g clip-path="url(#clipIA)">
<polyline points="464.5,431.52 465.48,430.99 466.45,430.47 467.43,429.94 468.4,429.41 469.38,428.89 470.35,428.36 471.33,427.83 472.3,427.31 473.28,426.78 474.25,426.25 475.23,425.72 476.2,425.19 477.18,424.66 478.15,424.13 479.13,423.6 480.1,423.07 481.08,422.54 482.05,422 483.03,421.47 484,420.94 484.98,420.41 485.95,419.87 486.93,419.34 487.9,418.81 488.87,418.27 489.85,417.74 490.82,417.2 491.8,416.67 492.77,416.13 493.75,415.6 494.72,415.06 495.7,414.52 496.67,413.99 497.65,413.45 498.62,412.91 499.6,412.37 500.57,411.84 501.55,411.3 502.52,410.76 503.5,410.22 504.47,409.68 505.45,409.14 506.42,408.6 507.4,408.06 508.37,407.52 509.35,406.98 510.32,406.44 511.3,405.9 512.27,405.36 513.25,404.83 514.22,404.29 515.2,403.75 516.17,403.21 517.14,402.66 518.12,402.12 519.09,401.58 520.07,401.04 521.04,400.5 522.02,399.95 522.99,399.41 523.97,398.86 524.94,398.31 525.92,397.77 526.89,397.22 527.87,396.67 528.84,396.11 529.82,395.56 530.79,395.01 531.77,394.45 532.74,393.89 533.72,393.33 534.69,392.77 535.67,392.21 536.64,391.64 537.62,391.07 538.59,390.51 539.57,389.94 540.54,389.37 541.52,388.8 542.49,388.22 543.47,387.65 544.44,387.08 545.41,386.5 546.39,385.92 547.36,385.35 548.34,384.77 549.31,384.19 550.29,383.6 551.26,383.02 552.24,382.44 553.21,381.85 554.19,381.26 555.16,380.67 556.14,380.08 557.11,379.49 558.09,378.9 559.06,378.31 560.04,377.71 561.01,377.12 561.99,376.52 562.96,375.92 563.94,375.32 564.91,374.72 565.89,374.12 566.86,373.51 567.84,372.91 568.81,372.3 569.79,371.7 570.76,371.1 571.74,370.5 572.71,369.9 573.68,369.3 574.66,368.69 575.63,368.07 576.61,367.45 577.58,366.81 578.56,366.16 579.53,365.49 580.51,364.81 581.48,364.1 582.46,363.38 583.43,362.64 584.41,361.88 585.38,361.11 586.36,360.33 587.33,359.53 588.31,358.72 589.28,357.91 590.26,357.08 591.23,356.25 592.21,355.41 593.18,354.57 594.16,353.72 595.13,352.87 596.11,352.02 597.08,351.17 598.06,350.33 599.03,349.48 600.01,348.65 600.98,347.82 601.96,347 602.93,346.18 603.9,345.35 604.88,344.51 605.85,343.65 606.83,342.77 607.8,341.86 608.78,340.93 609.75,339.96 610.73,338.94 611.7,337.88 612.68,336.74 613.65,335.54 614.63,334.3 615.6,333.01 616.58,331.7 617.55,330.37 618.53,329.02 619.5,327.68 620.48,326.34 621.45,325.02 622.43,323.74 623.4,322.49 624.38,321.29 625.35,320.12 626.33,318.94 627.3,317.73 628.28,316.45 629.25,315.08 630.23,313.59 631.2,311.97 632.17,310.25 633.15,308.44 634.12,306.55 635.1,304.62 636.07,302.65 637.05,300.68 638.02,298.7 639,296.75 639.97,294.85 640.95,293 641.92,291.26 642.9,289.62 643.87,288.01 644.85,286.36 645.82,284.6 646.8,282.67 647.77,280.49 648.75,277.98 649.72,275.15 650.7,272.05 651.67,268.74 652.65,265.24 653.62,261.62 654.6,257.51 655.57,252.81 656.55,247.96 657.52,243.44 658.5,239.71 659.47,236.55 660.44,233.69 661.42,231.34 662.39,229.67 663.37,228.25 664.34,227.11 665.32,226.54 666.29,227.19 667.27,229.74 668.24,233.86 669.22,239.17 670.19,250.67 671.17,269.15 672.14,283.54 673.12,295.25 674.09,309.85 675.07,324.03 676.04,333.62 677.02,340.83 677.99,346.01 678.97,348.85 679.94,350.84 680.92,352.38 681.89,353.67 682.87,354.91 683.84,356.1 684.82,357.19 685.79,358.21 686.77,359.16 687.74,360.05 688.71,360.89 689.69,361.7 690.66,362.47 691.64,363.2 692.61,363.9 693.59,364.57 694.56,365.21 695.54,365.83 696.51,366.43 697.49,367.02 698.46,367.6 699.44,368.18 700.41,368.75 701.39,369.31 702.36,369.85 703.34,370.39 704.31,370.9 705.29,371.41 706.26,371.89 707.24,372.36 708.21,372.81 709.19,373.25 710.16,373.68 711.14,374.1 712.11,374.5 713.09,374.89 714.06,375.27 715.04,375.63 716.01,375.98 716.98,376.31" fill="none" stroke="#1E8C1E" stroke-width="1.3" stroke-linejoin="round" />
<g fill="#F4F45A" stroke="#2E9A1E" stroke-width="0.9">
<circle cx="464.5" cy="431.52" r="2.9"/>
<circle cx="470.78" cy="428.13" r="2.9"/>
<circle cx="477.05" cy="424.73" r="2.9"/>
<circle cx="483.33" cy="421.31" r="2.9"/>
<circle cx="489.6" cy="417.87" r="2.9"/>
<circle cx="495.88" cy="414.43" r="2.9"/>
<circle cx="502.15" cy="410.96" r="2.9"/>
<circle cx="508.42" cy="407.49" r="2.9"/>
<circle cx="514.7" cy="404.02" r="2.9"/>
<circle cx="520.97" cy="400.54" r="2.9"/>
<circle cx="527.25" cy="397.02" r="2.9"/>
<circle cx="533.52" cy="393.44" r="2.9"/>
<circle cx="539.8" cy="389.8" r="2.9"/>
<circle cx="546.07" cy="386.11" r="2.9"/>
<circle cx="552.34" cy="382.37" r="2.9"/>
<circle cx="558.62" cy="378.58" r="2.9"/>
<circle cx="564.89" cy="374.73" r="2.9"/>
<circle cx="571.17" cy="370.85" r="2.9"/>
<circle cx="577.44" cy="366.91" r="2.9"/>
<circle cx="583.72" cy="362.42" r="2.9"/>
<circle cx="589.99" cy="357.31" r="2.9"/>
<circle cx="596.26" cy="351.88" r="2.9"/>
<circle cx="602.54" cy="346.51" r="2.9"/>
<circle cx="608.81" cy="340.9" r="2.9"/>
<circle cx="615.09" cy="333.7" r="2.9"/>
<circle cx="621.36" cy="325.14" r="2.9"/>
<circle cx="629.51" cy="314.7" r="2.9"/>
<circle cx="635.54" cy="303.74" r="2.9"/>
<circle cx="640.97" cy="292.96" r="2.9"/>
<circle cx="647.61" cy="280.88" r="2.9"/>
<circle cx="653.64" cy="261.55" r="2.9"/>
<circle cx="658.46" cy="239.81" r="2.9"/>
<circle cx="662.08" cy="230.14" r="2.9"/>
<circle cx="665.52" cy="226.52" r="2.9"/>
<circle cx="669.32" cy="239.81" r="2.9"/>
<circle cx="671.74" cy="278.46" r="2.9"/>
<circle cx="672.94" cy="292.96" r="2.9"/>
<circle cx="675.66" cy="330.41" r="2.9"/>
<circle cx="678.37" cy="347.32" r="2.9"/>
<circle cx="682.6" cy="354.57" r="2.9"/>
<circle cx="688.33" cy="360.56" r="2.9"/>
<circle cx="694.06" cy="364.88" r="2.9"/>
<circle cx="699.79" cy="368.39" r="2.9"/>
<circle cx="705.52" cy="371.53" r="2.9"/>
<circle cx="711.25" cy="374.14" r="2.9"/>
<circle cx="716.98" cy="376.31" r="2.9"/>
</g>
<polyline points="496.78,433.09 497.63,432.89 498.48,432.7 499.33,432.51 500.19,432.32 501.04,432.13 501.89,431.94 502.74,431.76 503.59,431.57 504.44,431.38 505.29,431.2 506.15,431.02 507,430.83 507.85,430.65 508.7,430.47 509.55,430.29 510.4,430.12 511.25,429.94 512.11,429.76 512.96,429.59 513.81,429.41 514.66,429.24 515.51,429.07 516.36,428.9 517.21,428.73 518.06,428.56 518.92,428.39 519.77,428.23 520.62,428.06 521.47,427.9 522.32,427.74 523.17,427.58 524.02,427.42 524.88,427.26 525.73,427.1 526.58,426.95 527.43,426.79 528.28,426.64 529.13,426.48 529.98,426.33 530.84,426.18 531.69,426.03 532.54,425.89 533.39,425.74 534.24,425.59 535.09,425.45 535.94,425.3 536.8,425.16 537.65,425.02 538.5,424.87 539.35,424.73 540.2,424.59 541.05,424.46 541.9,424.32 542.75,424.18 543.61,424.04 544.46,423.91 545.31,423.78 546.16,423.64 547.01,423.51 547.86,423.38 548.71,423.25 549.57,423.12 550.42,422.99 551.27,422.86 552.12,422.73 552.97,422.61 553.82,422.48 554.67,422.36 555.53,422.23 556.38,422.11 557.23,421.99 558.08,421.86 558.93,421.74 559.78,421.62 560.63,421.5 561.49,421.39 562.34,421.27 563.19,421.15 564.04,421.04 564.89,420.93 565.74,420.82 566.59,420.7 567.44,420.6 568.3,420.49 569.15,420.38 570,420.27 570.85,420.17 571.7,420.06 572.55,419.95 573.4,419.85 574.26,419.75 575.11,419.64 575.96,419.54 576.81,419.44 577.66,419.34 578.51,419.23 579.36,419.13 580.22,419.03 581.07,418.93 581.92,418.83 582.77,418.72 583.62,418.62 584.47,418.52 585.32,418.42 586.17,418.31 587.03,418.21 587.88,418.11 588.73,418 589.58,417.9 590.43,417.79 591.28,417.68 592.13,417.58 592.99,417.47 593.84,417.36 594.69,417.25 595.54,417.14 596.39,417.02 597.24,416.91 598.09,416.79 598.95,416.68 599.8,416.56 600.65,416.44 601.5,416.33 602.35,416.21 603.2,416.09 604.05,415.97 604.91,415.85 605.76,415.74 606.61,415.62 607.46,415.5 608.31,415.38 609.16,415.27 610.01,415.15 610.86,415.04 611.72,414.92 612.57,414.81 613.42,414.7 614.27,414.59 615.12,414.48 615.97,414.38 616.82,414.27 617.68,414.17 618.53,414.06 619.38,413.97 620.23,413.87 621.08,413.77 621.93,413.68 622.78,413.59 623.64,413.5 624.49,413.42 625.34,413.33 626.19,413.25 627.04,413.17 627.89,413.09 628.74,413.01 629.6,412.93 630.45,412.85 631.3,412.78 632.15,412.7 633,412.63 633.85,412.56 634.7,412.48 635.55,412.41 636.41,412.34 637.26,412.27 638.11,412.2 638.96,412.13 639.81,412.07 640.66,412 641.51,411.93 642.37,411.86 643.22,411.8 644.07,411.73 644.92,411.66 645.77,411.6 646.62,411.53 647.47,411.47 648.33,411.4 649.18,411.33 650.03,411.27 650.88,411.2 651.73,411.13 652.58,411.07 653.43,411 654.28,410.93 655.14,410.86 655.99,410.79 656.84,410.72 657.69,410.66 658.54,410.59 659.39,410.52 660.24,410.45 661.1,410.38 661.95,410.3 662.8,410.23 663.65,410.16 664.5,410.09 665.35,410.02 666.2,409.95 667.06,409.88 667.91,409.81 668.76,409.74 669.61,409.67 670.46,409.6 671.31,409.54 672.16,409.47 673.02,409.4 673.87,409.33 674.72,409.26 675.57,409.19 676.42,409.12 677.27,409.06 678.12,408.99 678.97,408.92 679.83,408.86 680.68,408.79 681.53,408.72 682.38,408.66 683.23,408.59 684.08,408.53 684.93,408.46 685.79,408.4 686.64,408.34 687.49,408.27 688.34,408.21 689.19,408.15 690.04,408.09 690.89,408.03 691.75,407.97 692.6,407.9 693.45,407.84 694.3,407.78 695.15,407.72 696,407.66 696.85,407.6 697.71,407.54 698.56,407.48 699.41,407.43 700.26,407.37 701.11,407.31 701.96,407.25 702.81,407.19 703.66,407.13 704.52,407.08 705.37,407.02 706.22,406.96 707.07,406.91 707.92,406.85 708.77,406.79 709.62,406.74 710.48,406.68 711.33,406.63 712.18,406.57 713.03,406.52 713.88,406.47 714.73,406.41 715.58,406.36 716.44,406.3 717.29,406.25" fill="none" stroke="#00E000" stroke-width="1.3" stroke-linejoin="round" />
<g fill="url(#p14)" stroke="#00A000" stroke-width="0.3">
<circle cx="496.78" cy="433.09" r="3.1"/>
<circle cx="529.36" cy="426.44" r="3.1"/>
<circle cx="560.73" cy="421.49" r="3.1"/>
<circle cx="592.71" cy="417.5" r="3.1"/>
<circle cx="623.47" cy="413.52" r="3.1"/>
<circle cx="629.51" cy="412.94" r="3.1"/>
<circle cx="635.36" cy="412.43" r="3.1"/>
<circle cx="641.21" cy="411.95" r="3.1"/>
<circle cx="647.06" cy="411.5" r="3.1"/>
<circle cx="652.91" cy="411.04" r="3.1"/>
<circle cx="658.77" cy="410.57" r="3.1"/>
<circle cx="664.62" cy="410.08" r="3.1"/>
<circle cx="670.47" cy="409.6" r="3.1"/>
<circle cx="676.32" cy="409.13" r="3.1"/>
<circle cx="682.17" cy="408.67" r="3.1"/>
<circle cx="688.03" cy="408.24" r="3.1"/>
<circle cx="693.88" cy="407.81" r="3.1"/>
<circle cx="699.73" cy="407.4" r="3.1"/>
<circle cx="705.58" cy="407.01" r="3.1"/>
<circle cx="711.43" cy="406.62" r="3.1"/>
<circle cx="717.29" cy="406.25" r="3.1"/>
</g>
<polyline points="470.84,411.46 471.43,410.82 472.02,410.18 472.61,409.53 473.2,408.88 473.79,408.23 474.37,407.58 474.96,406.92 475.55,406.27 476.14,405.61 476.73,404.94 477.32,404.28 477.91,403.61 478.5,402.94 479.09,402.27 479.68,401.59 480.27,400.92 480.86,400.24 481.45,399.56 482.04,398.87 482.63,398.15 483.21,397.41 483.8,396.65 484.39,395.87 484.98,395.08 485.57,394.28 486.16,393.48 486.75,392.68 487.34,391.88 487.93,391.1 488.52,390.33 489.11,389.57 489.7,388.84 490.29,388.14 490.88,387.47 491.46,386.83 492.05,386.23 492.64,385.68 493.23,385.18 493.82,384.73 494.41,384.29 495,383.86 495.59,383.42 496.18,382.99 496.77,382.56 497.36,382.14 497.95,381.73 498.54,381.33 499.13,380.95 499.72,380.58 500.3,380.24 500.89,379.91 501.48,379.62 502.07,379.35 502.66,379.11 503.25,378.91 503.84,378.74 504.43,378.62 505.02,378.53 505.61,378.49 506.2,378.49 506.79,378.53 507.38,378.6 507.97,378.7 508.56,378.83 509.14,378.98 509.73,379.16 510.32,379.37 510.91,379.6 511.5,379.85 512.09,380.12 512.68,380.41 513.27,380.71 513.86,381.04 514.45,381.37 515.04,381.72 515.63,382.08 516.22,382.46 516.81,382.84 517.4,383.23 517.98,383.62 518.57,384.1 519.16,384.68 519.75,385.37 520.34,386.15 520.93,387 521.52,387.9 522.11,388.86 522.7,389.85 523.29,390.87 523.88,391.89 524.47,392.91 525.06,393.91 525.65,394.88 526.24,395.81 526.82,396.68 527.41,397.51 528,398.38 528.59,399.27 529.18,400.18 529.77,401.09 530.36,402 530.95,402.9 531.54,403.78 532.13,404.63 532.72,405.44 533.31,406.21 533.9,406.93 534.49,407.59 535.07,408.17 535.66,408.68 536.25,409.11 536.84,409.52 537.43,409.93 538.02,410.33 538.61,410.72 539.2,411.09 539.79,411.46 540.38,411.8 540.97,412.13 541.56,412.43 542.15,412.71 542.74,412.96 543.33,413.18 543.91,413.37 544.5,413.53 545.09,413.64 545.68,413.72 546.27,413.76 546.86,413.78 547.45,413.79 548.04,413.81 548.63,413.82 549.22,413.84 549.81,413.85 550.4,413.86 550.99,413.88 551.58,413.89 552.17,413.9 552.75,413.91 553.34,413.92 553.93,413.93 554.52,413.94 555.11,413.95 555.7,413.95 556.29,413.96 556.88,413.97 557.47,413.97 558.06,413.98 558.65,413.98 559.24,413.99 559.83,413.99 560.42,413.99 561.01,414 561.59,414 562.18,414 562.77,414 563.36,414 563.95,414 564.54,414 565.13,414 565.72,414 566.31,413.99 566.9,413.99 567.49,413.98 568.08,413.97 568.67,413.96 569.26,413.95 569.85,413.94 570.43,413.93 571.02,413.92 571.61,413.91 572.2,413.89 572.79,413.88 573.38,413.86 573.97,413.85 574.56,413.83 575.15,413.81 575.74,413.79 576.33,413.78 576.92,413.76 577.51,413.74 578.1,413.71 578.68,413.69 579.27,413.67 579.86,413.65 580.45,413.62 581.04,413.6 581.63,413.58 582.22,413.55 582.81,413.53 583.4,413.5 583.99,413.48 584.58,413.45 585.17,413.42 585.76,413.4 586.35,413.37 586.94,413.34 587.52,413.31 588.11,413.29 588.7,413.26 589.29,413.23 589.88,413.2 590.47,413.17 591.06,413.14 591.65,413.12 592.24,413.09 592.83,413.06 593.42,413.03 594.01,413 594.6,412.97 595.19,412.93 595.78,412.89 596.36,412.85 596.95,412.8 597.54,412.75 598.13,412.71 598.72,412.65 599.31,412.6 599.9,412.54 600.49,412.49 601.08,412.43 601.67,412.37 602.26,412.3 602.85,412.24 603.44,412.18 604.03,412.11 604.62,412.04 605.2,411.98 605.79,411.91 606.38,411.84 606.97,411.77 607.56,411.7 608.15,411.63 608.74,411.56 609.33,411.49 609.92,411.42 610.51,411.35 611.1,411.28 611.69,411.21 612.28,411.15 612.87,411.08 613.45,411.01 614.04,410.95 614.63,410.88 615.22,410.82 615.81,410.76 616.4,410.7 616.99,410.64 617.58,410.58 618.17,410.53 618.76,410.47 619.35,410.42 619.94,410.37 620.53,410.33 621.12,410.28 621.71,410.24 622.29,410.2 622.88,410.17 623.47,410.14" fill="none" stroke="#8C8418" stroke-width="1.3" stroke-linejoin="round" />
<g fill="url(#p12)" stroke="#5c5600" stroke-width="0.3">
<circle cx="470.84" cy="411.46" r="3.1"/>
<circle cx="473.86" cy="408.16" r="3.1"/>
<circle cx="476.87" cy="404.79" r="3.1"/>
<circle cx="479.89" cy="401.35" r="3.1"/>
<circle cx="482.9" cy="397.8" r="3.1"/>
<circle cx="485.92" cy="393.81" r="3.1"/>
<circle cx="488.94" cy="389.79" r="3.1"/>
<circle cx="491.95" cy="386.33" r="3.1"/>
<circle cx="494.97" cy="383.88" r="3.1"/>
<circle cx="497.99" cy="381.7" r="3.1"/>
<circle cx="501" cy="379.86" r="3.1"/>
<circle cx="504.02" cy="378.7" r="3.1"/>
<circle cx="507.04" cy="378.56" r="3.1"/>
<circle cx="510.05" cy="379.27" r="3.1"/>
<circle cx="513.07" cy="380.61" r="3.1"/>
<circle cx="516.09" cy="382.37" r="3.1"/>
<circle cx="519.1" cy="384.62" r="3.1"/>
<circle cx="522.12" cy="388.88" r="3.1"/>
<circle cx="525.14" cy="394.04" r="3.1"/>
<circle cx="528.15" cy="398.6" r="3.1"/>
<circle cx="531.17" cy="403.23" r="3.1"/>
<circle cx="534.19" cy="407.26" r="3.1"/>
<circle cx="537.2" cy="409.77" r="3.1"/>
<circle cx="540.22" cy="411.71" r="3.1"/>
<circle cx="543.23" cy="413.15" r="3.1"/>
<circle cx="546.25" cy="413.76" r="3.1"/>
<circle cx="549.27" cy="413.84" r="3.1"/>
<circle cx="552.28" cy="413.9" r="3.1"/>
<circle cx="555.3" cy="413.95" r="3.1"/>
<circle cx="558.32" cy="413.98" r="3.1"/>
<circle cx="561.33" cy="414" r="3.1"/>
<circle cx="564.35" cy="414" r="3.1"/>
<circle cx="593.31" cy="413.04" r="3.1"/>
<circle cx="623.47" cy="410.14" r="3.1"/>
</g>
<polyline points="623.47,410.14 623.83,410.12 624.2,410.1 624.56,410.08 624.92,410.06 625.28,410.04 625.64,410.02 626,410.01 626.36,409.99 626.72,409.97 627.08,409.96 627.45,409.94 627.81,409.92 628.17,409.91 628.53,409.89 628.89,409.87 629.25,409.86 629.61,409.84 629.97,409.83 630.33,409.81 630.69,409.8 631.06,409.78 631.42,409.77 631.78,409.75 632.14,409.74 632.5,409.72 632.86,409.71 633.22,409.69 633.58,409.68 633.94,409.67 634.3,409.65 634.67,409.64 635.03,409.62 635.39,409.61 635.75,409.6 636.11,409.59 636.47,409.57 636.83,409.56 637.19,409.55 637.55,409.53 637.92,409.52 638.28,409.51 638.64,409.5 639,409.48 639.36,409.47 639.72,409.46 640.08,409.45 640.44,409.44 640.8,409.42 641.16,409.41 641.53,409.4 641.89,409.39 642.25,409.38 642.61,409.37 642.97,409.36 643.33,409.34 643.69,409.33 644.05,409.32 644.41,409.31 644.78,409.3 645.14,409.29 645.5,409.28 645.86,409.27 646.22,409.25 646.58,409.24 646.94,409.23 647.3,409.22 647.66,409.21 648.02,409.2 648.39,409.19 648.75,409.18 649.11,409.17 649.47,409.16 649.83,409.14 650.19,409.13 650.55,409.12 650.91,409.11 651.27,409.1 651.64,409.09 652,409.08 652.36,409.07 652.72,409.05 653.08,409.04 653.44,409.03 653.8,409.02 654.16,409.01 654.52,409 654.88,408.99 655.25,408.97 655.61,408.96 655.97,408.95 656.33,408.94 656.69,408.93 657.05,408.91 657.41,408.9 657.77,408.89 658.13,408.88 658.5,408.87 658.86,408.86 659.22,408.84 659.58,408.83 659.94,408.82 660.3,408.81 660.66,408.8 661.02,408.78 661.38,408.77 661.74,408.76 662.11,408.75 662.47,408.74 662.83,408.72 663.19,408.71 663.55,408.7 663.91,408.69 664.27,408.68 664.63,408.67 664.99,408.65 665.36,408.64 665.72,408.63 666.08,408.62 666.44,408.61 666.8,408.6 667.16,408.58 667.52,408.57 667.88,408.56 668.24,408.55 668.6,408.54 668.97,408.53 669.33,408.51 669.69,408.5 670.05,408.49 670.41,408.48 670.77,408.47 671.13,408.46 671.49,408.44 671.85,408.43 672.22,408.42 672.58,408.41 672.94,408.4 673.3,408.39 673.66,408.38 674.02,408.36 674.38,408.35 674.74,408.34 675.1,408.33 675.46,408.32 675.83,408.31 676.19,408.3 676.55,408.28 676.91,408.27 677.27,408.26 677.63,408.25 677.99,408.24 678.35,408.23 678.71,408.22 679.07,408.2 679.44,408.19 679.8,408.18 680.16,408.17 680.52,408.16 680.88,408.15 681.24,408.14 681.6,408.13 681.96,408.12 682.32,408.1 682.69,408.09 683.05,408.08 683.41,408.07 683.77,408.06 684.13,408.05 684.49,408.04 684.85,408.03 685.21,408.02 685.57,408 685.93,407.99 686.3,407.98 686.66,407.97 687.02,407.96 687.38,407.95 687.74,407.94 688.1,407.93 688.46,407.92 688.82,407.91 689.18,407.9 689.55,407.88 689.91,407.87 690.27,407.86 690.63,407.85 690.99,407.84 691.35,407.83 691.71,407.82 692.07,407.81 692.43,407.8 692.79,407.79 693.16,407.78 693.52,407.77 693.88,407.76 694.24,407.75 694.6,407.74 694.96,407.72 695.32,407.71 695.68,407.7 696.04,407.69 696.41,407.68 696.77,407.67 697.13,407.66 697.49,407.65 697.85,407.64 698.21,407.63 698.57,407.62 698.93,407.61 699.29,407.6 699.65,407.59 700.02,407.58 700.38,407.57 700.74,407.56 701.1,407.55 701.46,407.54 701.82,407.53 702.18,407.52 702.54,407.51 702.9,407.5 703.27,407.49 703.63,407.48 703.99,407.47 704.35,407.46 704.71,407.45 705.07,407.44 705.43,407.43 705.79,407.42 706.15,407.41 706.51,407.4 706.88,407.39 707.24,407.38 707.6,407.37 707.96,407.36 708.32,407.35 708.68,407.34 709.04,407.33 709.4,407.32 709.76,407.31 710.13,407.3 710.49,407.29 710.85,407.28 711.21,407.27 711.57,407.26 711.93,407.25 712.29,407.24 712.65,407.23 713.01,407.22 713.37,407.21 713.74,407.2 714.1,407.19 714.46,407.18 714.82,407.17 715.18,407.16 715.54,407.15 715.9,407.14 716.26,407.13 716.62,407.13 716.99,407.12" fill="none" stroke="#8C8418" stroke-width="1.3" stroke-linejoin="round" />
<g fill="url(#p12)" stroke="#5c5600" stroke-width="0.3">
<circle cx="623.47" cy="410.14" r="0.01"/>
<circle cx="716.99" cy="407.12" r="0.01"/>
</g>
<polyline points="472.05,424.99 472.99,424.37 473.93,423.73 474.87,423.08 475.81,422.42 476.75,421.76 477.69,421.08 478.63,420.4 479.57,419.7 480.51,419 481.45,418.29 482.39,417.56 483.34,416.83 484.28,416.1 485.22,415.35 486.16,414.6 487.1,413.83 488.04,413.06 488.98,412.28 489.92,411.5 490.86,410.7 491.8,409.9 492.74,409.09 493.68,408.27 494.62,407.45 495.57,406.62 496.51,405.78 497.45,404.93 498.39,404.08 499.33,403.22 500.27,402.36 501.21,401.49 502.15,400.61 503.09,399.73 504.03,398.84 504.97,397.95 505.91,397.05 506.86,396.14 507.8,395.23 508.74,394.31 509.68,393.38 510.62,392.44 511.56,391.49 512.5,390.53 513.44,389.56 514.38,388.58 515.32,387.58 516.26,386.58 517.2,385.56 518.15,384.53 519.09,383.49 520.03,382.43 520.97,381.36 521.91,380.27 522.85,379.17 523.79,378.05 524.73,376.92 525.67,375.77 526.61,374.6 527.55,373.41 528.49,372.21 529.44,370.98 530.38,369.74 531.32,368.47 532.26,367.18 533.2,365.82 534.14,364.39 535.08,362.91 536.02,361.37 536.96,359.79 537.9,358.18 538.84,356.55 539.78,354.9 540.73,353.24 541.67,351.58 542.61,349.9 543.55,348.13 544.49,346.27 545.43,344.37 546.37,342.47 547.31,340.59 548.25,338.77 549.19,337.05 550.13,335.46 551.07,334.04 552.02,332.67 552.96,331.24 553.9,329.8 554.84,328.39 555.78,327.06 556.72,325.86 557.66,324.82 558.6,324 559.54,323.43 560.48,323.17 561.42,323.17 562.36,323.22 563.3,323.31 564.25,323.44 565.19,323.59 566.13,323.76 567.07,324.09 568.01,324.72 568.95,325.6 569.89,326.67 570.83,327.9 571.77,329.22 572.71,330.6 573.65,332 574.59,333.61 575.54,335.47 576.48,337.54 577.42,339.79 578.36,342.16 579.3,344.6 580.24,347.09 581.18,349.57 582.12,352.13 583.06,354.85 584,357.71 584.94,360.64 585.88,363.6 586.83,366.53 587.77,369.39 588.71,372.13 589.65,375.03 590.59,378 591.53,380.8 592.47,383.19 593.41,384.92 594.35,386.26 595.29,387.48 596.23,388.57 597.17,389.55 598.12,390.41 599.06,391.17 600,391.83 600.94,392.39 601.88,392.87 602.82,393.32 603.76,393.73 604.7,394.13 605.64,394.49 606.58,394.83 607.52,395.15 608.46,395.45 609.41,395.73 610.35,396 611.29,396.25 612.23,396.5 613.17,396.73 614.11,396.96 615.05,397.18 615.99,397.4 616.93,397.61 617.87,397.82 618.81,398.03 619.75,398.24 620.7,398.44 621.64,398.64 622.58,398.83 623.52,399.02 624.46,399.2 625.4,399.38 626.34,399.56 627.28,399.73 628.22,399.9 629.16,400.06 630.1,400.22 631.04,400.37 631.98,400.52 632.93,400.66 633.87,400.8 634.81,400.93 635.75,401.06 636.69,401.19 637.63,401.3 638.57,401.42 639.51,401.52 640.45,401.63 641.39,401.72 642.33,401.82 643.27,401.91 644.22,402 645.16,402.08 646.1,402.17 647.04,402.25 647.98,402.33 648.92,402.41 649.86,402.49 650.8,402.56 651.74,402.63 652.68,402.7 653.62,402.77 654.56,402.83 655.51,402.9 656.45,402.96 657.39,403.02 658.33,403.08 659.27,403.14 660.21,403.19 661.15,403.25 662.09,403.3 663.03,403.35 663.97,403.4 664.91,403.45 665.85,403.5 666.8,403.55 667.74,403.59 668.68,403.64 669.62,403.69 670.56,403.73 671.5,403.78 672.44,403.83 673.38,403.87 674.32,403.92 675.26,403.96 676.2,404.01 677.14,404.05 678.09,404.1 679.03,404.14 679.97,404.18 680.91,404.23 681.85,404.27 682.79,404.31 683.73,404.35 684.67,404.39 685.61,404.43 686.55,404.47 687.49,404.51 688.43,404.55 689.38,404.59 690.32,404.63 691.26,404.66 692.2,404.7 693.14,404.73 694.08,404.77 695.02,404.8 695.96,404.83 696.9,404.87 697.84,404.9 698.78,404.93 699.72,404.96 700.66,404.99 701.61,405.01 702.55,405.04 703.49,405.07 704.43,405.09 705.37,405.11 706.31,405.14 707.25,405.16 708.19,405.18 709.13,405.2 710.07,405.22 711.01,405.23 711.95,405.25 712.9,405.27 713.84,405.28 714.78,405.29 715.72,405.3" fill="none" stroke="#7A1010" stroke-width="1.3" stroke-linejoin="round" />
<g fill="url(#p10)" stroke="#400000" stroke-width="0.3">
<circle cx="472.05" cy="424.99" r="3.1"/>
<circle cx="501" cy="401.68" r="3.1"/>
<circle cx="531.77" cy="367.86" r="3.1"/>
<circle cx="534.79" cy="363.38" r="3.1"/>
<circle cx="537.8" cy="358.35" r="3.1"/>
<circle cx="540.82" cy="353.07" r="3.1"/>
<circle cx="543.84" cy="347.56" r="3.1"/>
<circle cx="546.85" cy="341.49" r="3.1"/>
<circle cx="549.87" cy="335.89" r="3.1"/>
<circle cx="552.89" cy="331.34" r="3.1"/>
<circle cx="555.9" cy="326.9" r="3.1"/>
<circle cx="558.92" cy="323.77" r="3.1"/>
<circle cx="561.94" cy="323.2" r="3.1"/>
<circle cx="564.95" cy="323.55" r="3.1"/>
<circle cx="567.97" cy="324.69" r="3.1"/>
<circle cx="570.99" cy="328.11" r="3.1"/>
<circle cx="574" cy="332.56" r="3.1"/>
<circle cx="577.02" cy="338.82" r="3.1"/>
<circle cx="580.04" cy="346.55" r="3.1"/>
<circle cx="583.05" cy="354.82" r="3.1"/>
<circle cx="586.07" cy="364.17" r="3.1"/>
<circle cx="589.09" cy="373.27" r="3.1"/>
<circle cx="592.1" cy="382.32" r="3.1"/>
<circle cx="595.12" cy="387.26" r="3.1"/>
<circle cx="598.13" cy="390.43" r="3.1"/>
<circle cx="601.15" cy="392.5" r="3.1"/>
<circle cx="604.17" cy="393.91" r="3.1"/>
<circle cx="607.18" cy="395.04" r="3.1"/>
<circle cx="610.2" cy="395.96" r="3.1"/>
<circle cx="613.22" cy="396.74" r="3.1"/>
<circle cx="616.23" cy="397.45" r="3.1"/>
<circle cx="622.09" cy="398.73" r="3.1"/>
<circle cx="627.94" cy="399.85" r="3.1"/>
<circle cx="633.79" cy="400.79" r="3.1"/>
<circle cx="639.64" cy="401.54" r="3.1"/>
<circle cx="645.49" cy="402.12" r="3.1"/>
<circle cx="651.35" cy="402.6" r="3.1"/>
<circle cx="657.2" cy="403.01" r="3.1"/>
<circle cx="663.05" cy="403.35" r="3.1"/>
<circle cx="668.9" cy="403.65" r="3.1"/>
<circle cx="674.75" cy="403.94" r="3.1"/>
<circle cx="680.61" cy="404.21" r="3.1"/>
<circle cx="686.46" cy="404.47" r="3.1"/>
<circle cx="692.31" cy="404.7" r="3.1"/>
<circle cx="698.16" cy="404.91" r="3.1"/>
<circle cx="704.01" cy="405.08" r="3.1"/>
<circle cx="709.87" cy="405.21" r="3.1"/>
<circle cx="715.72" cy="405.3" r="3.1"/>
</g>
<polyline points="472.05,427.53 472.98,426.99 473.91,426.45 474.85,425.92 475.78,425.38 476.72,424.84 477.65,424.31 478.58,423.77 479.52,423.24 480.45,422.7 481.39,422.17 482.32,421.64 483.25,421.1 484.19,420.57 485.12,420.04 486.06,419.51 486.99,418.99 487.92,418.46 488.86,417.93 489.79,417.4 490.73,416.88 491.66,416.35 492.59,415.83 493.53,415.3 494.46,414.78 495.4,414.26 496.33,413.74 497.27,413.22 498.2,412.7 499.13,412.18 500.07,411.66 501,411.14 501.94,410.62 502.87,410.11 503.8,409.59 504.74,409.08 505.67,408.57 506.61,408.06 507.54,407.56 508.47,407.06 509.41,406.55 510.34,406.05 511.28,405.56 512.21,405.06 513.14,404.56 514.08,404.07 515.01,403.57 515.95,403.08 516.88,402.58 517.81,402.09 518.75,401.59 519.68,401.09 520.62,400.6 521.55,400.1 522.48,399.6 523.42,399.1 524.35,398.6 525.29,398.09 526.22,397.58 527.16,397.07 528.09,396.56 529.02,396.05 529.96,395.53 530.89,395.01 531.83,394.48 532.76,393.95 533.69,393.42 534.63,392.89 535.56,392.36 536.5,391.82 537.43,391.29 538.36,390.76 539.3,390.22 540.23,389.68 541.17,389.15 542.1,388.61 543.03,388.06 543.97,387.52 544.9,386.98 545.84,386.43 546.77,385.88 547.7,385.33 548.64,384.77 549.57,384.22 550.51,383.66 551.44,383.09 552.37,382.53 553.31,381.96 554.24,381.38 555.18,380.8 556.11,380.22 557.05,379.64 557.98,379.05 558.91,378.46 559.85,377.86 560.78,377.25 561.72,376.65 562.65,376.03 563.58,375.42 564.52,374.8 565.45,374.18 566.39,373.55 567.32,372.92 568.25,372.29 569.19,371.66 570.12,371.03 571.06,370.39 571.99,369.74 572.92,369.1 573.86,368.44 574.79,367.79 575.73,367.13 576.66,366.46 577.59,365.79 578.53,365.11 579.46,364.43 580.4,363.74 581.33,363.04 582.27,362.34 583.2,361.63 584.13,360.91 585.07,360.19 586,359.46 586.94,358.72 587.87,357.97 588.8,357.22 589.74,356.45 590.67,355.68 591.61,354.9 592.54,354.11 593.47,353.3 594.41,352.5 595.34,351.68 596.28,350.86 597.21,350.02 598.14,349.18 599.08,348.33 600.01,347.47 600.95,346.61 601.88,345.73 602.81,344.84 603.75,343.95 604.68,343.04 605.62,342.12 606.55,341.2 607.48,340.26 608.42,339.31 609.35,338.36 610.29,337.39 611.22,336.41 612.16,335.42 613.09,334.41 614.02,333.4 614.96,332.37 615.89,331.33 616.83,330.28 617.76,329.21 618.69,328.14 619.63,327.05 620.56,325.94 621.5,324.83 622.43,323.7 623.36,322.55 624.3,321.35 625.23,320.09 626.17,318.79 627.1,317.43 628.03,316.04 628.97,314.6 629.9,313.14 630.84,311.66 631.77,310.16 632.7,308.62 633.64,307.06 634.57,305.45 635.51,303.8 636.44,302.1 637.38,300.34 638.31,298.52 639.24,296.63 640.18,294.68 641.11,292.64 642.05,290.43 642.98,288.02 643.91,285.47 644.85,282.84 645.78,280.2 646.72,277.58 647.65,274.99 648.58,272.38 649.52,269.74 650.45,267.04 651.39,264.27 652.32,261.41 653.25,258.4 654.19,254.62 655.12,250.25 656.06,245.81 656.99,241.84 657.92,238.87 658.86,237.45 659.79,237.43 660.73,237.58 661.66,237.85 662.59,238.24 663.53,238.74 664.46,239.34 665.4,240.4 666.33,246.4 667.27,257.21 668.2,270.9 669.13,285.53 670.07,299.18 671,309.9 671.94,317.91 672.87,325.77 673.8,333.2 674.74,339.84 675.67,345.35 676.61,349.38 677.54,351.72 678.47,353.39 679.41,354.75 680.34,355.88 681.28,356.86 682.21,357.77 683.14,358.7 684.08,359.71 685.01,360.73 685.95,361.71 686.88,362.67 687.81,363.58 688.75,364.46 689.68,365.31 690.62,366.13 691.55,366.95 692.48,367.75 693.42,368.49 694.35,369.14 695.29,369.68 696.22,370.11 697.16,370.47 698.09,370.78 699.02,371.08 699.96,371.37 700.89,371.69 701.83,372.05 702.76,372.47 703.69,372.93 704.63,373.42 705.56,373.92 706.5,374.41 707.43,374.87 708.36,375.29 709.3,375.7 710.23,376.1 711.17,376.49 712.1,376.85 713.03,377.2 713.97,377.52" fill="none" stroke="#8000FF" stroke-width="1.3" stroke-linejoin="round" />
<g fill="url(#p1)" stroke="#4B0096" stroke-width="0.3">
<circle cx="472.05" cy="427.53" r="3.1"/>
<circle cx="502.81" cy="410.14" r="3.1"/>
<circle cx="532.98" cy="393.83" r="3.1"/>
<circle cx="563.14" cy="375.71" r="3.1"/>
<circle cx="592.71" cy="353.96" r="3.1"/>
<circle cx="622.87" cy="323.16" r="3.1"/>
<circle cx="628.9" cy="314.7" r="3.1"/>
<circle cx="634.94" cy="304.81" r="3.1"/>
<circle cx="640.97" cy="292.96" r="3.1"/>
<circle cx="646.4" cy="278.46" r="3.1"/>
<circle cx="653.04" cy="259.14" r="3.1"/>
<circle cx="659.07" cy="237.39" r="3.1"/>
<circle cx="665.1" cy="239.81" r="3.1"/>
<circle cx="671.13" cy="311.08" r="3.1"/>
<circle cx="677.17" cy="350.94" r="3.1"/>
<circle cx="683.8" cy="359.4" r="3.1"/>
<circle cx="689.84" cy="365.44" r="3.1"/>
<circle cx="695.27" cy="369.67" r="3.1"/>
<circle cx="701.9" cy="372.08" r="3.1"/>
<circle cx="707.94" cy="375.1" r="3.1"/>
<circle cx="713.97" cy="377.52" r="3.1"/>
</g>
<polyline points="472.05,426.44 472.98,425.89 473.91,425.34 474.84,424.79 475.77,424.24 476.7,423.68 477.64,423.13 478.57,422.58 479.5,422.03 480.43,421.48 481.36,420.93 482.29,420.38 483.23,419.83 484.16,419.28 485.09,418.73 486.02,418.18 486.95,417.63 487.88,417.08 488.82,416.54 489.75,415.99 490.68,415.44 491.61,414.89 492.54,414.34 493.48,413.8 494.41,413.25 495.34,412.7 496.27,412.16 497.2,411.61 498.13,411.06 499.07,410.52 500,409.97 500.93,409.43 501.86,408.88 502.79,408.34 503.72,407.79 504.66,407.25 505.59,406.71 506.52,406.17 507.45,405.63 508.38,405.1 509.31,404.56 510.25,404.03 511.18,403.5 512.11,402.96 513.04,402.43 513.97,401.9 514.91,401.37 515.84,400.84 516.77,400.3 517.7,399.77 518.63,399.24 519.56,398.7 520.5,398.17 521.43,397.63 522.36,397.09 523.29,396.55 524.22,396.01 525.15,395.47 526.09,394.92 527.02,394.38 527.95,393.83 528.88,393.27 529.81,392.72 530.74,392.16 531.68,391.6 532.61,391.03 533.54,390.47 534.47,389.9 535.4,389.33 536.34,388.77 537.27,388.2 538.2,387.63 539.13,387.07 540.06,386.5 540.99,385.93 541.93,385.36 542.86,384.79 543.79,384.22 544.72,383.64 545.65,383.06 546.58,382.48 547.52,381.9 548.45,381.31 549.38,380.72 550.31,380.13 551.24,379.53 552.17,378.93 553.11,378.33 554.04,377.72 554.97,377.11 555.9,376.49 556.83,375.86 557.77,375.23 558.7,374.6 559.63,373.96 560.56,373.31 561.49,372.66 562.42,372 563.36,371.33 564.29,370.66 565.22,369.99 566.15,369.31 567.08,368.63 568.01,367.96 568.95,367.27 569.88,366.59 570.81,365.89 571.74,365.2 572.67,364.5 573.6,363.79 574.54,363.08 575.47,362.36 576.4,361.63 577.33,360.9 578.26,360.16 579.2,359.41 580.13,358.65 581.06,357.88 581.99,357.11 582.92,356.32 583.85,355.52 584.79,354.71 585.72,353.89 586.65,353.06 587.58,352.21 588.51,351.35 589.44,350.48 590.38,349.6 591.31,348.7 592.24,347.78 593.17,346.85 594.1,345.91 595.03,344.96 595.97,343.99 596.9,343.01 597.83,342.02 598.76,341.01 599.69,339.99 600.62,338.95 601.56,337.9 602.49,336.83 603.42,335.74 604.35,334.64 605.28,333.52 606.22,332.38 607.15,331.23 608.08,330.06 609.01,328.87 609.94,327.66 610.87,326.43 611.81,325.18 612.74,323.91 613.67,322.62 614.6,321.3 615.53,319.97 616.46,318.61 617.4,317.24 618.33,315.83 619.26,314.41 620.19,312.96 621.12,311.49 622.05,309.99 622.99,308.47 623.92,306.81 624.85,304.97 625.78,303.04 626.71,301.06 627.65,299.09 628.58,297.21 629.51,295.43 630.44,293.63 631.37,291.84 632.3,290.09 633.24,288.43 634.17,286.88 635.1,285.48 636.03,284.22 636.96,283.06 637.89,281.97 638.83,280.92 639.76,279.87 640.69,278.8 641.62,277.66 642.55,276.45 643.48,275.23 644.42,274.03 645.35,272.9 646.28,271.89 647.21,271.03 648.14,270.2 649.08,269.36 650.01,268.6 650.94,268.01 651.87,267.66 652.8,267.61 653.73,267.84 654.67,268.28 655.6,268.92 656.53,269.73 657.46,270.68 658.39,271.73 659.32,273.33 660.26,275.94 661.19,279.38 662.12,283.45 663.05,287.96 663.98,292.72 664.91,297.74 665.85,304.28 666.78,312.02 667.71,320.27 668.64,328.33 669.57,335.52 670.51,341.15 671.44,345.62 672.37,349.84 673.3,353.71 674.23,357.12 675.16,359.98 676.1,362.19 677.03,363.72 677.96,364.93 678.89,365.95 679.82,366.82 680.75,367.6 681.69,368.33 682.62,369.08 683.55,369.82 684.48,370.51 685.41,371.17 686.34,371.79 687.28,372.41 688.21,373.02 689.14,373.63 690.07,374.26 691,374.87 691.94,375.47 692.87,376.03 693.8,376.54 694.73,376.99 695.66,377.41 696.59,377.8 697.53,378.17 698.46,378.52 699.39,378.86 700.32,379.2 701.25,379.53 702.18,379.85 703.12,380.15 704.05,380.45 704.98,380.75 705.91,381.04 706.84,381.34 707.77,381.66 708.71,381.98 709.64,382.31 710.57,382.65 711.5,382.97 712.43,383.28 713.37,383.56" fill="none" stroke="#1010FF" stroke-width="1.3" stroke-linejoin="round" />
<g fill="url(#p3)" stroke="#0000a0" stroke-width="0.3">
<circle cx="472.05" cy="426.44" r="3.1"/>
<circle cx="502.81" cy="408.32" r="3.1"/>
<circle cx="532.98" cy="390.81" r="3.1"/>
<circle cx="563.14" cy="371.48" r="3.1"/>
<circle cx="592.71" cy="347.32" r="3.1"/>
<circle cx="622.87" cy="308.66" r="3.1"/>
<circle cx="628.9" cy="296.58" r="3.1"/>
<circle cx="634.94" cy="285.71" r="3.1"/>
<circle cx="640.97" cy="278.46" r="3.1"/>
<circle cx="647" cy="271.22" r="3.1"/>
<circle cx="652.43" cy="267.59" r="3.1"/>
<circle cx="658.46" cy="271.82" r="3.1"/>
<circle cx="664.5" cy="295.38" r="3.1"/>
<circle cx="670.53" cy="341.28" r="3.1"/>
<circle cx="676.56" cy="363.02" r="3.1"/>
<circle cx="682.6" cy="369.06" r="3.1"/>
<circle cx="688.63" cy="373.29" r="3.1"/>
<circle cx="694.06" cy="376.67" r="3.1"/>
<circle cx="700.7" cy="379.33" r="3.1"/>
<circle cx="707.33" cy="381.51" r="3.1"/>
<circle cx="713.37" cy="383.56" r="3.1"/>
</g>
<polyline points="472.05,425.84 472.98,425.29 473.92,424.73 474.85,424.17 475.79,423.61 476.73,423.04 477.66,422.48 478.6,421.91 479.54,421.34 480.47,420.77 481.41,420.19 482.35,419.62 483.28,419.04 484.22,418.46 485.15,417.87 486.09,417.29 487.03,416.7 487.96,416.11 488.9,415.52 489.84,414.93 490.77,414.33 491.71,413.74 492.65,413.14 493.58,412.54 494.52,411.93 495.46,411.33 496.39,410.72 497.33,410.12 498.26,409.5 499.2,408.89 500.14,408.28 501.07,407.66 502.01,407.04 502.95,406.42 503.88,405.8 504.82,405.18 505.76,404.56 506.69,403.93 507.63,403.3 508.56,402.67 509.5,402.04 510.44,401.41 511.37,400.78 512.31,400.14 513.25,399.5 514.18,398.86 515.12,398.22 516.06,397.57 516.99,396.92 517.93,396.27 518.87,395.62 519.8,394.96 520.74,394.3 521.67,393.64 522.61,392.97 523.55,392.31 524.48,391.63 525.42,390.96 526.36,390.28 527.29,389.6 528.23,388.91 529.17,388.22 530.1,387.53 531.04,386.83 531.97,386.13 532.91,385.42 533.85,384.72 534.78,384.01 535.72,383.31 536.66,382.61 537.59,381.91 538.53,381.2 539.47,380.5 540.4,379.8 541.34,379.09 542.27,378.38 543.21,377.67 544.15,376.96 545.08,376.24 546.02,375.51 546.96,374.78 547.89,374.05 548.83,373.3 549.77,372.55 550.7,371.79 551.64,371.02 552.58,370.24 553.51,369.45 554.45,368.65 555.38,367.84 556.32,367.02 557.26,366.19 558.19,365.34 559.13,364.48 560.07,363.6 561,362.71 561.94,361.8 562.88,360.88 563.81,359.94 564.75,358.99 565.68,358.02 566.62,357.05 567.56,356.06 568.49,355.07 569.43,354.05 570.37,353.03 571.3,351.98 572.24,350.93 573.18,349.85 574.11,348.77 575.05,347.66 575.99,346.54 576.92,345.39 577.86,344.24 578.79,343.06 579.73,341.86 580.67,340.64 581.6,339.4 582.54,338.14 583.48,336.86 584.41,335.56 585.35,334.23 586.29,332.88 587.22,331.5 588.16,330.11 589.09,328.68 590.03,327.23 590.97,325.76 591.9,324.26 592.84,322.73 593.78,321.13 594.71,319.28 595.65,317.3 596.59,315.39 597.52,313.59 598.46,311.78 599.4,309.87 600.33,307.74 601.27,305.28 602.2,302.73 603.14,300.39 604.08,298.33 605.01,296.38 605.95,294.4 606.89,292.21 607.82,289.66 608.76,287.09 609.7,284.91 610.63,283.15 611.57,281.59 612.5,280.15 613.44,278.72 614.38,277.24 615.31,275.86 616.25,274.83 617.19,274.04 618.12,273.38 619.06,273.04 620,273.08 620.93,273.26 621.87,273.55 622.8,273.93 623.74,274.39 624.68,275.3 625.61,276.57 626.55,277.95 627.49,279.38 628.42,280.99 629.36,282.83 630.3,284.95 631.23,287.49 632.17,290.43 633.11,293.73 634.04,297.33 634.98,301.19 635.91,305.24 636.85,309.68 637.79,314.94 638.72,320.72 639.66,326.69 640.6,332.55 641.53,337.98 642.47,342.7 643.41,347.22 644.34,351.65 645.28,355.85 646.21,359.69 647.15,363.03 648.09,365.75 649.02,367.93 649.96,369.9 650.9,371.67 651.83,373.24 652.77,374.59 653.71,375.75 654.64,376.7 655.58,377.51 656.52,378.23 657.45,378.86 658.39,379.44 659.32,379.99 660.26,380.53 661.2,381.06 662.13,381.56 663.07,382.03 664.01,382.48 664.94,382.92 665.88,383.36 666.82,383.8 667.75,384.23 668.69,384.66 669.62,385.08 670.56,385.49 671.5,385.88 672.43,386.25 673.37,386.62 674.31,386.97 675.24,387.31 676.18,387.65 677.12,387.97 678.05,388.29 678.99,388.59 679.93,388.88 680.86,389.16 681.8,389.44 682.73,389.71 683.67,389.99 684.61,390.26 685.54,390.55 686.48,390.84 687.42,391.13 688.35,391.42 689.29,391.7 690.23,391.96 691.16,392.2 692.1,392.43 693.03,392.66 693.97,392.87 694.91,393.09 695.84,393.31 696.78,393.54 697.72,393.79 698.65,394.04 699.59,394.3 700.53,394.55 701.46,394.79 702.4,395.01 703.34,395.22 704.27,395.41 705.21,395.6 706.14,395.78 707.08,395.96 708.02,396.14 708.95,396.33 709.89,396.51 710.83,396.7 711.76,396.89 712.7,397.08 713.64,397.26 714.57,397.45" fill="none" stroke="#FF1414" stroke-width="1.3" stroke-linejoin="round" />
<g fill="url(#p7)" stroke="#b00000" stroke-width="0.3">
<circle cx="472.05" cy="425.84" r="3.1"/>
<circle cx="502.81" cy="406.51" r="3.1"/>
<circle cx="532.98" cy="385.37" r="3.1"/>
<circle cx="563.14" cy="360.61" r="3.1"/>
<circle cx="593.31" cy="321.95" r="3.1"/>
<circle cx="596.33" cy="315.91" r="3.1"/>
<circle cx="599.94" cy="308.66" r="3.1"/>
<circle cx="602.96" cy="300.81" r="3.1"/>
<circle cx="606.58" cy="292.96" r="3.1"/>
<circle cx="609.6" cy="285.11" r="3.1"/>
<circle cx="613.22" cy="279.07" r="3.1"/>
<circle cx="616.23" cy="274.84" r="3.1"/>
<circle cx="619.25" cy="273.03" r="3.1"/>
<circle cx="623.47" cy="274.24" r="3.1"/>
<circle cx="626.49" cy="277.86" r="3.1"/>
<circle cx="630.11" cy="284.5" r="3.1"/>
<circle cx="636.14" cy="306.25" r="3.1"/>
<circle cx="642.18" cy="341.28" r="3.1"/>
<circle cx="648.21" cy="366.04" r="3.1"/>
<circle cx="654.24" cy="376.31" r="3.1"/>
<circle cx="660.27" cy="380.54" r="3.1"/>
<circle cx="666.31" cy="383.56" r="3.1"/>
<circle cx="671.74" cy="385.98" r="3.1"/>
<circle cx="678.37" cy="388.39" r="3.1"/>
<circle cx="684.41" cy="390.2" r="3.1"/>
<circle cx="690.44" cy="392.02" r="3.1"/>
<circle cx="696.47" cy="393.47" r="3.1"/>
<circle cx="702.51" cy="395.04" r="3.1"/>
<circle cx="708.54" cy="396.24" r="3.1"/>
<circle cx="714.57" cy="397.45" r="3.1"/>
</g>
</g>
<rect x="445.5" y="220.4" width="271.5" height="229.6" fill="none" stroke="#333333" stroke-width="1.4"/>
<line x1="445.5" y1="443.96" x2="448.1" y2="443.96" stroke="#333333" stroke-width="1.3" />
<line x1="717" y1="443.96" x2="714.4" y2="443.96" stroke="#333333" stroke-width="1.3" />
<line x1="445.5" y1="425.84" x2="450.1" y2="425.84" stroke="#333333" stroke-width="1.3" />
<line x1="717" y1="425.84" x2="712.4" y2="425.84" stroke="#333333" stroke-width="1.3" />
<line x1="445.5" y1="407.72" x2="448.1" y2="407.72" stroke="#333333" stroke-width="1.3" />
<line x1="717" y1="407.72" x2="714.4" y2="407.72" stroke="#333333" stroke-width="1.3" />
<line x1="445.5" y1="389.6" x2="450.1" y2="389.6" stroke="#333333" stroke-width="1.3" />
<line x1="717" y1="389.6" x2="712.4" y2="389.6" stroke="#333333" stroke-width="1.3" />
<line x1="445.5" y1="371.48" x2="448.1" y2="371.48" stroke="#333333" stroke-width="1.3" />
<line x1="717" y1="371.48" x2="714.4" y2="371.48" stroke="#333333" stroke-width="1.3" />
<line x1="445.5" y1="353.36" x2="450.1" y2="353.36" stroke="#333333" stroke-width="1.3" />
<line x1="717" y1="353.36" x2="712.4" y2="353.36" stroke="#333333" stroke-width="1.3" />
<line x1="445.5" y1="335.24" x2="448.1" y2="335.24" stroke="#333333" stroke-width="1.3" />
<line x1="717" y1="335.24" x2="714.4" y2="335.24" stroke="#333333" stroke-width="1.3" />
<line x1="445.5" y1="317.12" x2="450.1" y2="317.12" stroke="#333333" stroke-width="1.3" />
<line x1="717" y1="317.12" x2="712.4" y2="317.12" stroke="#333333" stroke-width="1.3" />
<line x1="445.5" y1="299" x2="448.1" y2="299" stroke="#333333" stroke-width="1.3" />
<line x1="717" y1="299" x2="714.4" y2="299" stroke="#333333" stroke-width="1.3" />
<line x1="445.5" y1="280.88" x2="450.1" y2="280.88" stroke="#333333" stroke-width="1.3" />
<line x1="717" y1="280.88" x2="712.4" y2="280.88" stroke="#333333" stroke-width="1.3" />
<line x1="445.5" y1="262.76" x2="448.1" y2="262.76" stroke="#333333" stroke-width="1.3" />
<line x1="717" y1="262.76" x2="714.4" y2="262.76" stroke="#333333" stroke-width="1.3" />
<line x1="445.5" y1="244.64" x2="450.1" y2="244.64" stroke="#333333" stroke-width="1.3" />
<line x1="717" y1="244.64" x2="712.4" y2="244.64" stroke="#333333" stroke-width="1.3" />
<line x1="445.5" y1="226.52" x2="448.1" y2="226.52" stroke="#333333" stroke-width="1.3" />
<line x1="717" y1="226.52" x2="714.4" y2="226.52" stroke="#333333" stroke-width="1.3" />
<line x1="475.67" y1="450" x2="475.67" y2="445.4" stroke="#333333" stroke-width="1.3" />
<line x1="475.67" y1="220.4" x2="475.67" y2="225" stroke="#333333" stroke-width="1.3" />
<line x1="505.83" y1="450" x2="505.83" y2="452.6" stroke="#333333" stroke-width="1.3" />
<line x1="505.83" y1="220.4" x2="505.83" y2="223" stroke="#333333" stroke-width="1.3" />
<line x1="536" y1="450" x2="536" y2="445.4" stroke="#333333" stroke-width="1.3" />
<line x1="536" y1="220.4" x2="536" y2="225" stroke="#333333" stroke-width="1.3" />
<line x1="566.16" y1="450" x2="566.16" y2="452.6" stroke="#333333" stroke-width="1.3" />
<line x1="566.16" y1="220.4" x2="566.16" y2="223" stroke="#333333" stroke-width="1.3" />
<line x1="596.33" y1="450" x2="596.33" y2="445.4" stroke="#333333" stroke-width="1.3" />
<line x1="596.33" y1="220.4" x2="596.33" y2="225" stroke="#333333" stroke-width="1.3" />
<line x1="626.49" y1="450" x2="626.49" y2="452.6" stroke="#333333" stroke-width="1.3" />
<line x1="626.49" y1="220.4" x2="626.49" y2="223" stroke="#333333" stroke-width="1.3" />
<line x1="656.65" y1="450" x2="656.65" y2="445.4" stroke="#333333" stroke-width="1.3" />
<line x1="656.65" y1="220.4" x2="656.65" y2="225" stroke="#333333" stroke-width="1.3" />
<line x1="686.82" y1="450" x2="686.82" y2="452.6" stroke="#333333" stroke-width="1.3" />
<line x1="686.82" y1="220.4" x2="686.82" y2="223" stroke="#333333" stroke-width="1.3" />
<text x="440.3" y="431.44" font-size="16" text-anchor="end" font-weight="bold" fill="#000" >3</text>
<text x="440.3" y="395.2" font-size="16" text-anchor="end" font-weight="bold" fill="#000" >6</text>
<text x="440.3" y="358.96" font-size="16" text-anchor="end" font-weight="bold" fill="#000" >9</text>
<text x="440.3" y="322.72" font-size="16" text-anchor="end" font-weight="bold" fill="#000" >12</text>
<text x="440.3" y="286.48" font-size="16" text-anchor="end" font-weight="bold" fill="#000" >15</text>
<text x="440.3" y="250.24" font-size="16" text-anchor="end" font-weight="bold" fill="#000" >18</text>
<text x="475.67" y="468.2" font-size="17.2" text-anchor="middle" font-weight="bold" fill="#000" >2</text>
<text x="536" y="468.2" font-size="17.2" text-anchor="middle" font-weight="bold" fill="#000" >3</text>
<text x="596.33" y="468.2" font-size="17.2" text-anchor="middle" font-weight="bold" fill="#000" >4</text>
<text x="656.65" y="468.2" font-size="17.2" text-anchor="middle" font-weight="bold" fill="#000" >5</text>
<text x="716.99" y="468.2" font-size="17.2" text-anchor="middle" font-weight="bold" fill="#000" >6</text>
<text x="605.5" y="487.8" font-size="16.4" text-anchor="middle" font-weight="bold" fill="#000" >T (K)</text>
<g transform="translate(407.4,381) rotate(-90) scale(1.1,1)"><text x="0" y="0" font-size="15.6" font-weight="bold">C<tspan font-size="15.8" dy="6.8">p</tspan><tspan dy="-6.8">(J / mole K)</tspan></text></g>
<text x="533.6" y="248.7" font-size="16" letter-spacing="0.55">Ba<tspan font-size="10.4" dy="7.2">2</tspan><tspan dy="-7.2">Mn(PO</tspan><tspan font-size="10.4" dy="7.2">4</tspan><tspan dy="-7.2">)</tspan><tspan font-size="10.4" dy="7.2">2</tspan></text>
<line x1="453.7" y1="233.8" x2="467" y2="233.8" stroke="#1E8C1E" stroke-width="1.5" />
<line x1="479.4" y1="233.8" x2="492.7" y2="233.8" stroke="#1E8C1E" stroke-width="1.5" />
<circle cx="473.2" cy="233.8" r="3.1" fill="#F4F45A" stroke="#2E9A1E" stroke-width="0.9"/>
<text x="496.6" y="239.9" font-size="16.4" text-anchor="start" font-weight="normal" fill="#000" >0T</text>
<line x1="453.7" y1="255.83" x2="467" y2="255.83" stroke="#8000FF" stroke-width="1.5" />
<line x1="479.4" y1="255.83" x2="492.7" y2="255.83" stroke="#8000FF" stroke-width="1.5" />
<circle cx="473.2" cy="255.83" r="3.3" fill="url(#p1)" stroke="#4B0096" stroke-width="0.3"/>
<text x="496.6" y="261.93" font-size="16.4" text-anchor="start" font-weight="normal" fill="#000" >1T</text>
<line x1="453.7" y1="277.86" x2="467" y2="277.86" stroke="#1010FF" stroke-width="1.5" />
<line x1="479.4" y1="277.86" x2="492.7" y2="277.86" stroke="#1010FF" stroke-width="1.5" />
<circle cx="473.2" cy="277.86" r="3.3" fill="url(#p3)" stroke="#0000a0" stroke-width="0.3"/>
<text x="496.6" y="283.96" font-size="16.4" text-anchor="start" font-weight="normal" fill="#000" >3T</text>
<line x1="453.7" y1="299.89" x2="467" y2="299.89" stroke="#FF1414" stroke-width="1.5" />
<line x1="479.4" y1="299.89" x2="492.7" y2="299.89" stroke="#FF1414" stroke-width="1.5" />
<circle cx="473.2" cy="299.89" r="3.3" fill="url(#p7)" stroke="#b00000" stroke-width="0.3"/>
<text x="496.6" y="305.99" font-size="16.4" text-anchor="start" font-weight="normal" fill="#000" >7T</text>
<line x1="453.7" y1="321.92" x2="467" y2="321.92" stroke="#7A1010" stroke-width="1.5" />
<line x1="479.4" y1="321.92" x2="492.7" y2="321.92" stroke="#7A1010" stroke-width="1.5" />
<circle cx="473.2" cy="321.92" r="3.3" fill="url(#p10)" stroke="#400000" stroke-width="0.3"/>
<text x="496.6" y="328.02" font-size="16.4" text-anchor="start" font-weight="normal" fill="#000" >10T</text>
<line x1="453.7" y1="343.95" x2="467" y2="343.95" stroke="#8C8418" stroke-width="1.5" />
<line x1="479.4" y1="343.95" x2="492.7" y2="343.95" stroke="#8C8418" stroke-width="1.5" />
<circle cx="473.2" cy="343.95" r="3.3" fill="url(#p12)" stroke="#5c5600" stroke-width="0.3"/>
<text x="496.6" y="350.05" font-size="16.4" text-anchor="start" font-weight="normal" fill="#000" >12T</text>
<line x1="453.7" y1="365.98" x2="467" y2="365.98" stroke="#00E000" stroke-width="1.5" />
<line x1="479.4" y1="365.98" x2="492.7" y2="365.98" stroke="#00E000" stroke-width="1.5" />
<circle cx="473.2" cy="365.98" r="3.3" fill="url(#p14)" stroke="#00A000" stroke-width="0.3"/>
<text x="496.6" y="372.08" font-size="16.4" text-anchor="start" font-weight="normal" fill="#000" >14T</text>
</g>
<g id="panelB">
<rect x="120.2" y="616.4" width="621.8" height="499.1" fill="none" stroke="#000" stroke-width="2"/>
<line x1="120.2" y1="1109.9" x2="129.7" y2="1109.9" stroke="#000" stroke-width="2" />
<line x1="120.2" y1="1055.04" x2="125.2" y2="1055.04" stroke="#000" stroke-width="2" />
<line x1="120.2" y1="1000.17" x2="129.7" y2="1000.17" stroke="#000" stroke-width="2" />
<line x1="120.2" y1="945.31" x2="125.2" y2="945.31" stroke="#000" stroke-width="2" />
<line x1="120.2" y1="890.44" x2="129.7" y2="890.44" stroke="#000" stroke-width="2" />
<line x1="120.2" y1="835.58" x2="125.2" y2="835.58" stroke="#000" stroke-width="2" />
<line x1="120.2" y1="780.71" x2="129.7" y2="780.71" stroke="#000" stroke-width="2" />
<line x1="120.2" y1="725.85" x2="125.2" y2="725.85" stroke="#000" stroke-width="2" />
<line x1="120.2" y1="670.98" x2="129.7" y2="670.98" stroke="#000" stroke-width="2" />
<line x1="742" y1="1082.23" x2="737" y2="1082.23" stroke="#000" stroke-width="2" />
<line x1="742" y1="1048.96" x2="732.5" y2="1048.96" stroke="#000" stroke-width="2" />
<line x1="742" y1="1015.69" x2="737" y2="1015.69" stroke="#000" stroke-width="2" />
<line x1="742" y1="982.42" x2="732.5" y2="982.42" stroke="#000" stroke-width="2" />
<line x1="742" y1="949.15" x2="737" y2="949.15" stroke="#000" stroke-width="2" />
<line x1="742" y1="915.88" x2="732.5" y2="915.88" stroke="#000" stroke-width="2" />
<line x1="742" y1="882.61" x2="737" y2="882.61" stroke="#000" stroke-width="2" />
<line x1="742" y1="849.34" x2="732.5" y2="849.34" stroke="#000" stroke-width="2" />
<line x1="742" y1="816.07" x2="737" y2="816.07" stroke="#000" stroke-width="2" />
<line x1="742" y1="782.8" x2="732.5" y2="782.8" stroke="#000" stroke-width="2" />
<line x1="742" y1="749.53" x2="737" y2="749.53" stroke="#000" stroke-width="2" />
<line x1="742" y1="716.26" x2="732.5" y2="716.26" stroke="#000" stroke-width="2" />
<line x1="742" y1="682.99" x2="737" y2="682.99" stroke="#000" stroke-width="2" />
<line x1="742" y1="649.72" x2="732.5" y2="649.72" stroke="#000" stroke-width="2" />
<line x1="159.06" y1="1115.5" x2="159.06" y2="1110.5" stroke="#000" stroke-width="2" />
<line x1="159.06" y1="616.4" x2="159.06" y2="621.4" stroke="#000" stroke-width="2" />
<line x1="197.93" y1="1115.5" x2="197.93" y2="1106" stroke="#000" stroke-width="2" />
<line x1="197.93" y1="616.4" x2="197.93" y2="625.9" stroke="#000" stroke-width="2" />
<line x1="236.79" y1="1115.5" x2="236.79" y2="1110.5" stroke="#000" stroke-width="2" />
<line x1="236.79" y1="616.4" x2="236.79" y2="621.4" stroke="#000" stroke-width="2" />
<line x1="275.65" y1="1115.5" x2="275.65" y2="1106" stroke="#000" stroke-width="2" />
<line x1="275.65" y1="616.4" x2="275.65" y2="625.9" stroke="#000" stroke-width="2" />
<line x1="314.51" y1="1115.5" x2="314.51" y2="1110.5" stroke="#000" stroke-width="2" />
<line x1="314.51" y1="616.4" x2="314.51" y2="621.4" stroke="#000" stroke-width="2" />
<line x1="353.38" y1="1115.5" x2="353.38" y2="1106" stroke="#000" stroke-width="2" />
<line x1="353.38" y1="616.4" x2="353.38" y2="625.9" stroke="#000" stroke-width="2" />
<line x1="392.24" y1="1115.5" x2="392.24" y2="1110.5" stroke="#000" stroke-width="2" />
<line x1="392.24" y1="616.4" x2="392.24" y2="621.4" stroke="#000" stroke-width="2" />
<line x1="431.1" y1="1115.5" x2="431.1" y2="1106" stroke="#000" stroke-width="2" />
<line x1="431.1" y1="616.4" x2="431.1" y2="625.9" stroke="#000" stroke-width="2" />
<line x1="469.96" y1="1115.5" x2="469.96" y2="1110.5" stroke="#000" stroke-width="2" />
<line x1="469.96" y1="616.4" x2="469.96" y2="621.4" stroke="#000" stroke-width="2" />
<line x1="508.82" y1="1115.5" x2="508.82" y2="1106" stroke="#000" stroke-width="2" />
<line x1="508.82" y1="616.4" x2="508.82" y2="625.9" stroke="#000" stroke-width="2" />
<line x1="547.69" y1="1115.5" x2="547.69" y2="1110.5" stroke="#000" stroke-width="2" />
<line x1="547.69" y1="616.4" x2="547.69" y2="621.4" stroke="#000" stroke-width="2" />
<line x1="586.55" y1="1115.5" x2="586.55" y2="1106" stroke="#000" stroke-width="2" />
<line x1="586.55" y1="616.4" x2="586.55" y2="625.9" stroke="#000" stroke-width="2" />
<line x1="625.41" y1="1115.5" x2="625.41" y2="1110.5" stroke="#000" stroke-width="2" />
<line x1="625.41" y1="616.4" x2="625.41" y2="621.4" stroke="#000" stroke-width="2" />
<line x1="664.28" y1="1115.5" x2="664.28" y2="1106" stroke="#000" stroke-width="2" />
<line x1="664.28" y1="616.4" x2="664.28" y2="625.9" stroke="#000" stroke-width="2" />
<line x1="703.14" y1="1115.5" x2="703.14" y2="1110.5" stroke="#000" stroke-width="2" />
<line x1="703.14" y1="616.4" x2="703.14" y2="621.4" stroke="#000" stroke-width="2" />
<line x1="384" y1="643.9" x2="725.4" y2="643.9" stroke="#0000FF" stroke-width="3.8" stroke-dasharray="15 7 4.6 7.9 4.6 7.6"/>
<path d="M722.5,639.3 L736.9,644.05 L722.5,648.8" fill="none" stroke="#0000FF" stroke-width="2.8" stroke-linejoin="miter" stroke-miterlimit="10"/>
<g fill="#FF0000" clip-path="url(#clipB)">
<circle cx="120.2" cy="1109.9" r="7.15"/>
<circle cx="120.67" cy="1107.79" r="7.15"/>
<circle cx="121.13" cy="1105.59" r="7.15"/>
<circle cx="121.6" cy="1103.3" r="7.15"/>
<circle cx="122.07" cy="1100.93" r="7.15"/>
<circle cx="122.53" cy="1098.48" r="7.15"/>
<circle cx="123" cy="1095.96" r="7.15"/>
<circle cx="123.46" cy="1093.37" r="7.15"/>
<circle cx="123.93" cy="1090.7" r="7.15"/>
<circle cx="124.4" cy="1087.97" r="7.15"/>
<circle cx="124.86" cy="1085.18" r="7.15"/>
<circle cx="125.33" cy="1082.33" r="7.15"/>
<circle cx="125.8" cy="1079.39" r="7.15"/>
<circle cx="126.26" cy="1076.23" r="7.15"/>
<circle cx="126.73" cy="1072.9" r="7.15"/>
<circle cx="127.2" cy="1069.44" r="7.15"/>
<circle cx="127.66" cy="1065.89" r="7.15"/>
<circle cx="128.13" cy="1062.29" r="7.15"/>
<circle cx="128.59" cy="1058.69" r="7.15"/>
<circle cx="129.06" cy="1055.13" r="7.15"/>
<circle cx="129.53" cy="1051.66" r="7.15"/>
<circle cx="129.99" cy="1048.32" r="7.15"/>
<circle cx="130.46" cy="1045.16" r="7.15"/>
<circle cx="130.93" cy="1042.13" r="7.15"/>
<circle cx="131.39" cy="1039.15" r="7.15"/>
<circle cx="131.86" cy="1036.22" r="7.15"/>
<circle cx="132.33" cy="1033.34" r="7.15"/>
<circle cx="132.79" cy="1030.51" r="7.15"/>
<circle cx="133.26" cy="1027.71" r="7.15"/>
<circle cx="133.72" cy="1024.95" r="7.15"/>
<circle cx="134.19" cy="1022.23" r="7.15"/>
<circle cx="134.66" cy="1019.53" r="7.15"/>
<circle cx="135.12" cy="1016.85" r="7.15"/>
<circle cx="135.59" cy="1014.19" r="7.15"/>
<circle cx="136.06" cy="1011.55" r="7.15"/>
<circle cx="136.52" cy="1008.92" r="7.15"/>
<circle cx="136.99" cy="1006.29" r="7.15"/>
<circle cx="137.45" cy="1003.67" r="7.15"/>
<circle cx="137.92" cy="1001.05" r="7.15"/>
<circle cx="138.39" cy="998.43" r="7.15"/>
<circle cx="138.85" cy="995.88" r="7.15"/>
<circle cx="139.32" cy="993.37" r="7.15"/>
<circle cx="139.79" cy="990.88" r="7.15"/>
<circle cx="140.25" cy="988.4" r="7.15"/>
<circle cx="140.72" cy="985.92" r="7.15"/>
<circle cx="141.19" cy="983.4" r="7.15"/>
<circle cx="141.65" cy="980.84" r="7.15"/>
<circle cx="142.12" cy="978.22" r="7.15"/>
<circle cx="142.58" cy="975.5" r="7.15"/>
<circle cx="143.05" cy="972.65" r="7.15"/>
<circle cx="143.52" cy="969.72" r="7.15"/>
<circle cx="143.98" cy="966.73" r="7.15"/>
<circle cx="144.45" cy="963.73" r="7.15"/>
<circle cx="144.92" cy="960.74" r="7.15"/>
<circle cx="145.38" cy="957.8" r="7.15"/>
<circle cx="145.85" cy="954.93" r="7.15"/>
<circle cx="146.32" cy="952.18" r="7.15"/>
<circle cx="146.78" cy="949.58" r="7.15"/>
<circle cx="147.25" cy="947.16" r="7.15"/>
</g>
<line x1="193.84" y1="790.01" x2="193.92" y2="789.19" stroke="#00008B" stroke-width="2.9" />
<line x1="195.45" y1="770.45" x2="195.9" y2="763.75" stroke="#00008B" stroke-width="2.9" />
<line x1="196.94" y1="744.98" x2="197.66" y2="728.65" stroke="#00008B" stroke-width="2.9" />
<line x1="199.94" y1="713.29" x2="200.27" y2="720.08" stroke="#00008B" stroke-width="2.9" />
<line x1="200.85" y1="738.87" x2="201.53" y2="790.4" stroke="#00008B" stroke-width="2.9" />
<line x1="201.85" y1="809.2" x2="201.93" y2="813.56" stroke="#00008B" stroke-width="2.9" />
<line x1="202.14" y1="832.36" x2="202.26" y2="883.23" stroke="#00008B" stroke-width="2.9" />
<line x1="202.42" y1="902.03" x2="202.6" y2="914.62" stroke="#00008B" stroke-width="2.9" />
<line x1="224.48" y1="1026.58" x2="224.84" y2="1027.2" stroke="#00008B" stroke-width="2.9" />
<line x1="441.74" y1="1110.56" x2="450.26" y2="1110.56" stroke="#00008B" stroke-width="2.9" />
<line x1="469.06" y1="1110.56" x2="477.57" y2="1110.56" stroke="#00008B" stroke-width="2.9" />
<line x1="496.37" y1="1110.56" x2="504.88" y2="1110.56" stroke="#00008B" stroke-width="2.9" />
<line x1="523.68" y1="1110.55" x2="532.19" y2="1110.55" stroke="#00008B" stroke-width="2.9" />
<line x1="550.99" y1="1110.55" x2="559.51" y2="1110.54" stroke="#00008B" stroke-width="2.9" />
<line x1="578.31" y1="1110.53" x2="586.82" y2="1110.53" stroke="#00008B" stroke-width="2.9" />
<line x1="605.62" y1="1110.52" x2="614.13" y2="1110.51" stroke="#00008B" stroke-width="2.9" />
<line x1="632.93" y1="1110.5" x2="641.44" y2="1110.49" stroke="#00008B" stroke-width="2.9" />
<line x1="660.24" y1="1110.47" x2="668.76" y2="1110.46" stroke="#00008B" stroke-width="2.9" />
<line x1="687.56" y1="1110.43" x2="696.07" y2="1110.42" stroke="#00008B" stroke-width="2.9" />
<line x1="714.87" y1="1110.39" x2="723.38" y2="1110.37" stroke="#00008B" stroke-width="2.9" />
<g fill="#00008B" clip-path="url(#clipB2)">
<circle cx="147.71" cy="944.92" r="7.75"/>
<circle cx="148.41" cy="941.69" r="7.75"/>
<circle cx="149.11" cy="938.61" r="7.75"/>
<circle cx="149.81" cy="935.67" r="7.75"/>
<circle cx="150.51" cy="932.87" r="7.75"/>
<circle cx="151.21" cy="930.21" r="7.75"/>
<circle cx="151.91" cy="927.68" r="7.75"/>
<circle cx="152.61" cy="925.29" r="7.75"/>
<circle cx="153.31" cy="923.02" r="7.75"/>
<circle cx="154.01" cy="920.84" r="7.75"/>
<circle cx="154.71" cy="918.73" r="7.75"/>
<circle cx="155.41" cy="916.7" r="7.75"/>
<circle cx="156.11" cy="914.75" r="7.75"/>
<circle cx="156.81" cy="912.89" r="7.75"/>
<circle cx="157.51" cy="911.11" r="7.75"/>
<circle cx="158.21" cy="909.42" r="7.75"/>
<circle cx="158.91" cy="907.81" r="7.75"/>
<circle cx="159.61" cy="906.29" r="7.75"/>
<circle cx="160.31" cy="904.87" r="7.75"/>
<circle cx="161.01" cy="903.53" r="7.75"/>
<circle cx="161.71" cy="902.26" r="7.75"/>
<circle cx="162.4" cy="901.05" r="7.75"/>
<circle cx="163.1" cy="899.89" r="7.75"/>
<circle cx="163.8" cy="898.76" r="7.75"/>
<circle cx="164.5" cy="897.67" r="7.75"/>
<circle cx="165.2" cy="896.6" r="7.75"/>
<circle cx="165.9" cy="895.53" r="7.75"/>
<circle cx="166.6" cy="894.46" r="7.75"/>
<circle cx="167.3" cy="893.37" r="7.75"/>
<circle cx="168" cy="892.26" r="7.75"/>
<circle cx="168.7" cy="891.11" r="7.75"/>
<circle cx="169.4" cy="889.92" r="7.75"/>
<circle cx="170.1" cy="888.7" r="7.75"/>
<circle cx="170.8" cy="887.51" r="7.75"/>
<circle cx="171.5" cy="886.32" r="7.75"/>
<circle cx="172.2" cy="885.14" r="7.75"/>
<circle cx="172.9" cy="883.95" r="7.75"/>
<circle cx="173.6" cy="882.73" r="7.75"/>
<circle cx="174.3" cy="881.48" r="7.75"/>
<circle cx="175" cy="880.18" r="7.75"/>
<circle cx="175.7" cy="878.83" r="7.75"/>
<circle cx="176.4" cy="877.41" r="7.75"/>
<circle cx="177.09" cy="875.91" r="7.75"/>
<circle cx="177.79" cy="874.31" r="7.75"/>
<circle cx="178.49" cy="872.59" r="7.75"/>
<circle cx="179.19" cy="870.75" r="7.75"/>
<circle cx="179.89" cy="868.78" r="7.75"/>
<circle cx="180.59" cy="866.71" r="7.75"/>
<circle cx="181.29" cy="864.54" r="7.75"/>
<circle cx="181.99" cy="862.27" r="7.75"/>
<circle cx="182.69" cy="859.94" r="7.75"/>
<circle cx="183.39" cy="857.4" r="7.75"/>
<circle cx="184.09" cy="854.62" r="7.75"/>
<circle cx="184.79" cy="851.71" r="7.75"/>
<circle cx="185.49" cy="848.78" r="7.75"/>
<circle cx="186.19" cy="845.92" r="7.75"/>
<circle cx="186.89" cy="843.29" r="7.75"/>
<circle cx="187.59" cy="840.9" r="7.75"/>
<circle cx="188.29" cy="838.49" r="7.75"/>
<circle cx="189.69" cy="824.6" r="7.75"/>
<circle cx="191.09" cy="813.63" r="7.75"/>
<circle cx="192.95" cy="799.36" r="7.75"/>
<circle cx="194.82" cy="779.83" r="7.75"/>
<circle cx="196.53" cy="754.37" r="7.75"/>
<circle cx="198.08" cy="719.26" r="7.75"/>
<circle cx="199.48" cy="703.9" r="7.75"/>
<circle cx="200.72" cy="729.47" r="7.75"/>
<circle cx="201.66" cy="799.8" r="7.75"/>
<circle cx="202.12" cy="822.96" r="7.75"/>
<circle cx="202.28" cy="892.63" r="7.75"/>
<circle cx="202.74" cy="924.02" r="7.75"/>
<circle cx="203.83" cy="937.4" r="7.75"/>
<circle cx="204.45" cy="941.35" r="7.75"/>
<circle cx="205.08" cy="945.28" r="7.75"/>
<circle cx="205.7" cy="949.2" r="7.75"/>
<circle cx="206.32" cy="953.11" r="7.75"/>
<circle cx="206.94" cy="957.07" r="7.75"/>
<circle cx="207.56" cy="961.17" r="7.75"/>
<circle cx="208.18" cy="965.3" r="7.75"/>
<circle cx="208.81" cy="969.34" r="7.75"/>
<circle cx="209.43" cy="973.16" r="7.75"/>
<circle cx="210.05" cy="976.65" r="7.75"/>
<circle cx="210.67" cy="979.7" r="7.75"/>
<circle cx="211.29" cy="982.43" r="7.75"/>
<circle cx="211.92" cy="984.94" r="7.75"/>
<circle cx="212.54" cy="987.28" r="7.75"/>
<circle cx="213.16" cy="989.51" r="7.75"/>
<circle cx="213.78" cy="991.7" r="7.75"/>
<circle cx="214.4" cy="993.9" r="7.75"/>
<circle cx="215.02" cy="996.19" r="7.75"/>
<circle cx="215.65" cy="998.63" r="7.75"/>
<circle cx="216.27" cy="1001.27" r="7.75"/>
<circle cx="216.89" cy="1004.37" r="7.75"/>
<circle cx="217.51" cy="1007.89" r="7.75"/>
<circle cx="218.44" cy="1013.21" r="7.75"/>
<circle cx="219.69" cy="1018.49" r="7.75"/>
<circle cx="229.64" cy="1035.28" r="7.75"/>
<circle cx="237.11" cy="1048.2" r="7.75"/>
<circle cx="244.58" cy="1060.54" r="7.75"/>
<circle cx="252.04" cy="1070.23" r="7.75"/>
<circle cx="259.51" cy="1079.05" r="7.75"/>
<circle cx="266.98" cy="1086.08" r="7.75"/>
<circle cx="274.45" cy="1091.58" r="7.75"/>
<circle cx="281.92" cy="1096.06" r="7.75"/>
<circle cx="289.39" cy="1099.82" r="7.75"/>
<circle cx="296.86" cy="1102.65" r="7.75"/>
<circle cx="304.33" cy="1104.9" r="7.75"/>
<circle cx="311.8" cy="1106.68" r="7.75"/>
<circle cx="319.27" cy="1108.13" r="7.75"/>
<circle cx="326.74" cy="1109.22" r="7.75"/>
<circle cx="334.21" cy="1110.07" r="7.75"/>
<circle cx="341.68" cy="1110.26" r="7.75"/>
<circle cx="349.15" cy="1110.32" r="7.75"/>
<circle cx="356.62" cy="1110.37" r="7.75"/>
<circle cx="364.09" cy="1110.41" r="7.75"/>
<circle cx="371.55" cy="1110.45" r="7.75"/>
<circle cx="379.02" cy="1110.48" r="7.75"/>
<circle cx="386.49" cy="1110.5" r="7.75"/>
<circle cx="393.96" cy="1110.52" r="7.75"/>
<circle cx="401.43" cy="1110.54" r="7.75"/>
<circle cx="408.9" cy="1110.55" r="7.75"/>
<circle cx="416.37" cy="1110.55" r="7.75"/>
<circle cx="432.34" cy="1110.56" r="7.75"/>
<circle cx="459.66" cy="1110.56" r="7.75"/>
<circle cx="486.97" cy="1110.56" r="7.75"/>
<circle cx="514.28" cy="1110.55" r="7.75"/>
<circle cx="541.59" cy="1110.55" r="7.75"/>
<circle cx="568.91" cy="1110.54" r="7.75"/>
<circle cx="596.22" cy="1110.53" r="7.75"/>
<circle cx="623.53" cy="1110.51" r="7.75"/>
<circle cx="650.84" cy="1110.48" r="7.75"/>
<circle cx="678.16" cy="1110.45" r="7.75"/>
<circle cx="705.47" cy="1110.41" r="7.75"/>
<circle cx="732.78" cy="1110.36" r="7.75"/>
</g>
<polyline points="120.2,1115.5 121.45,1115.39 122.69,1115.1 123.94,1114.65 125.18,1114.11 126.43,1113.5 127.68,1112.63 128.92,1111.36 130.17,1109.79 131.41,1108.03 132.66,1106.18 133.91,1104.27 135.15,1102.12 136.4,1099.76 137.65,1097.21 138.89,1094.53 140.14,1091.75 141.38,1088.9 142.63,1085.92 143.88,1082.77 145.12,1079.44 146.37,1075.94 147.61,1072.25 148.86,1068.26 150.11,1063.96 151.35,1059.46 152.6,1054.89 153.84,1050.34 155.09,1045.74 156.34,1041.06 157.58,1036.33 158.83,1031.56 160.07,1026.75 161.32,1021.89 162.57,1017 163.81,1012.07 165.06,1007.15 166.31,1002.24 167.55,997.41 168.8,992.58 170.04,987.67 171.29,982.6 172.54,977.28 173.78,971.56 175.03,965.74 176.27,960.16 177.52,954.74 178.77,949.41 180.01,944.09 181.26,938.71 182.5,933.21 183.75,927.52 185,921.63 186.24,915.66 187.49,909.55 188.74,903.16 189.98,896.4 191.23,889.14 192.47,881.11 193.72,872.44 194.97,863.35 196.21,854.1 197.46,844.94 198.7,835.43 199.95,825.45 201.2,817.7 202.44,812.59 203.69,808.45 204.93,804.88 206.18,801.48 207.43,798.07 208.67,794.81 209.92,791.67 211.16,788.66 212.41,785.74 213.66,782.91 214.9,780.14 216.15,777.42 217.4,774.74 218.64,772.06 219.89,769.41 221.13,766.8 222.38,764.24 223.63,761.77 224.87,759.4 226.12,757.16 227.36,755.05 228.61,753.08 229.86,751.2 231.1,749.4 232.35,747.63 233.59,745.88 234.84,744.11 236.09,742.3 237.33,740.47 238.58,738.63 239.82,736.81 241.07,735.02 242.32,733.26 243.56,731.55 244.81,729.91 246.06,728.29 247.3,726.69 248.55,725.13 249.79,723.64 251.04,722.24 252.29,720.96 253.53,719.79 254.78,718.68 256.02,717.64 257.27,716.65 258.52,715.72 259.76,714.83 261.01,713.99 262.25,713.18 263.5,712.4 264.75,711.67 265.99,710.99 267.24,710.35 268.48,709.76 269.73,709.2 270.98,708.67 272.22,708.17 273.47,707.7 274.72,707.26 275.96,706.84 277.21,706.45 278.45,706.07 279.7,705.71 280.95,705.38 282.19,705.06 283.44,704.78 284.68,704.52 285.93,704.26 287.18,704.02 288.42,703.78 289.67,703.54 290.91,703.32 292.16,703.1 293.41,702.9 294.65,702.71 295.9,702.53 297.15,702.37 298.39,702.22 299.64,702.09 300.88,701.98 302.13,701.88 303.38,701.78 304.62,701.68 305.87,701.59 307.11,701.49 308.36,701.4 309.61,701.31 310.85,701.23 312.1,701.14 313.34,701.06 314.59,700.98 315.84,700.91 317.08,700.83 318.33,700.77 319.57,700.7 320.82,700.64 322.07,700.58 323.31,700.53 324.56,700.48 325.81,700.44 327.05,700.4 328.3,700.37 329.54,700.34 330.79,700.32 332.04,700.3 333.28,700.29 334.53,700.29 335.77,700.29 337.02,700.3 338.27,700.31 339.51,700.32 340.76,700.34 342,700.36 343.25,700.39 344.5,700.42 345.74,700.45 346.99,700.49 348.23,700.52 349.48,700.56 350.73,700.6 351.97,700.65 353.22,700.69 354.47,700.74 355.71,700.79 356.96,700.83 358.2,700.88 359.45,700.93 360.7,700.98 361.94,701.03 363.19,701.08 364.43,701.13 365.68,701.17 366.93,701.22 368.17,701.26 369.42,701.31 370.66,701.35 371.91,701.4 373.16,701.44 374.4,701.49 375.65,701.54 376.89,701.59 378.14,701.65 379.39,701.7 380.63,701.76 381.88,701.81 383.13,701.87 384.37,701.92 385.62,701.98 386.86,702.04 388.11,702.1 389.36,702.16 390.6,702.22 391.85,702.27 393.09,702.33 394.34,702.39 395.59,702.45 396.83,702.51 398.08,702.57 399.32,702.62 400.57,702.68 401.82,702.74 403.06,702.79 404.31,702.85 405.56,702.9 406.8,702.95 408.05,703.01 409.29,703.06 410.54,703.1 411.79,703.15 413.03,703.2 414.28,703.24 415.52,703.28 416.77,703.33 418.02,703.37 419.26,703.41 420.51,703.45 421.75,703.49 423,703.54 424.25,703.58 425.49,703.62 426.74,703.66 427.98,703.7 429.23,703.75 430.48,703.79 431.72,703.83 432.97,703.87 434.22,703.91 435.46,703.95 436.71,704 437.95,704.04 439.2,704.08 440.45,704.12 441.69,704.15 442.94,704.19 444.18,704.23 445.43,704.27 446.68,704.31 447.92,704.34 449.17,704.38 450.41,704.41 451.66,704.45 452.91,704.48 454.15,704.52 455.4,704.55 456.64,704.58 457.89,704.61 459.14,704.64 460.38,704.67 461.63,704.7 462.88,704.72 464.12,704.75 465.37,704.77 466.61,704.8 467.86,704.82 469.11,704.84 470.35,704.86 471.6,704.88 472.84,704.89 474.09,704.91 475.34,704.92 476.58,704.94 477.83,704.95 479.07,704.96 480.32,704.97 481.57,704.98 482.81,704.99 484.06,705 485.31,705.01 486.55,705.02 487.8,705.03 489.04,705.04 490.29,705.05 491.54,705.06 492.78,705.07 494.03,705.08 495.27,705.09 496.52,705.1 497.77,705.11 499.01,705.12 500.26,705.13 501.5,705.14 502.75,705.15 504,705.15 505.24,705.16 506.49,705.17 507.73,705.18 508.98,705.18 510.23,705.19 511.47,705.2 512.72,705.21 513.97,705.21 515.21,705.22 516.46,705.22 517.7,705.23 518.95,705.23 520.2,705.24 521.44,705.24 522.69,705.25 523.93,705.25 525.18,705.26 526.43,705.26 527.67,705.26 528.92,705.27 530.16,705.27 531.41,705.27 532.66,705.28 533.9,705.28 535.15,705.28 536.39,705.28 537.64,705.28 538.89,705.28 540.13,705.28 541.38,705.28 542.63,705.28 543.87,705.28 545.12,705.27 546.36,705.27 547.61,705.27 548.86,705.26 550.1,705.26 551.35,705.25 552.59,705.25 553.84,705.24 555.09,705.23 556.33,705.22 557.58,705.21 558.82,705.2 560.07,705.2 561.32,705.18 562.56,705.17 563.81,705.16 565.05,705.15 566.3,705.14 567.55,705.13 568.79,705.11 570.04,705.1 571.29,705.09 572.53,705.07 573.78,705.06 575.02,705.04 576.27,705.03 577.52,705.01 578.76,705 580.01,704.98 581.25,704.97 582.5,704.95 583.75,704.93 584.99,704.92 586.24,704.9 587.48,704.88 588.73,704.87 589.98,704.85 591.22,704.83 592.47,704.82 593.72,704.8 594.96,704.78 596.21,704.76 597.45,704.74 598.7,704.73 599.95,704.71 601.19,704.69 602.44,704.67 603.68,704.66 604.93,704.64 606.18,704.62 607.42,704.6 608.67,704.59 609.91,704.57 611.16,704.55 612.41,704.53 613.65,704.52 614.9,704.5 616.14,704.48 617.39,704.47 618.64,704.45 619.88,704.43 621.13,704.42 622.38,704.4 623.62,704.39 624.87,704.37 626.11,704.36 627.36,704.34 628.61,704.33 629.85,704.32 631.1,704.3 632.34,704.29 633.59,704.28 634.84,704.27 636.08,704.25 637.33,704.24 638.57,704.23 639.82,704.22 641.07,704.21 642.31,704.19 643.56,704.18 644.8,704.17 646.05,704.16 647.3,704.14 648.54,704.13 649.79,704.12 651.04,704.11 652.28,704.1 653.53,704.08 654.77,704.07 656.02,704.06 657.27,704.05 658.51,704.04 659.76,704.02 661,704.01 662.25,704 663.5,703.99 664.74,703.98 665.99,703.96 667.23,703.95 668.48,703.94 669.73,703.93 670.97,703.92 672.22,703.91 673.46,703.89 674.71,703.88 675.96,703.87 677.2,703.86 678.45,703.85 679.7,703.84 680.94,703.82 682.19,703.81 683.43,703.8 684.68,703.79 685.93,703.78 687.17,703.77 688.42,703.76 689.66,703.74 690.91,703.73 692.16,703.72 693.4,703.71 694.65,703.7 695.89,703.69 697.14,703.68 698.39,703.66 699.63,703.65 700.88,703.64 702.13,703.63 703.37,703.62 704.62,703.61 705.86,703.6 707.11,703.59 708.36,703.57 709.6,703.56 710.85,703.55 712.09,703.54 713.34,703.53 714.59,703.52 715.83,703.51 717.08,703.5 718.32,703.49 719.57,703.48 720.82,703.47 722.06,703.45 723.31,703.44 724.55,703.43 725.8,703.42 727.05,703.41 728.29,703.4 729.54,703.39 730.79,703.38 732.03,703.37 733.28,703.36 734.52,703.35 735.77,703.34 737.02,703.33 738.26,703.32 739.51,703.31 740.75,703.3 742,703.28" fill="none" stroke="#FF8000" stroke-width="3.8" stroke-linejoin="round" />
<line x1="238" y1="1059.3" x2="129" y2="1046.4" stroke="#000" stroke-width="1" />
<path d="M118.1,1045.1 L131.5,1042.9 L130.6,1050.3 Z" fill="#000"/>
<line x1="562.3" y1="711" x2="728" y2="782.3" stroke="#000" stroke-width="1" />
<path d="M737.9,786.6 L727.3,778.4 L724.9,784.6 Z" fill="#000"/>
<text transform="translate(109.2,1119) scale(0.958,1)" font-size="31.3" text-anchor="end">0</text>
<text transform="translate(109.2,1009.27) scale(0.958,1)" font-size="31.3" text-anchor="end">1</text>
<text transform="translate(109.2,899.54) scale(0.958,1)" font-size="31.3" text-anchor="end">2</text>
<text transform="translate(109.2,789.81) scale(0.958,1)" font-size="31.3" text-anchor="end">3</text>
<text transform="translate(109.2,680.08) scale(0.958,1)" font-size="31.3" text-anchor="end">4</text>
<text transform="translate(753.2,1125.2) scale(0.958,1)" font-size="31.3" text-anchor="start">0</text>
<text transform="translate(753.2,1057.86) scale(0.958,1)" font-size="31.3" text-anchor="start">2</text>
<text transform="translate(753.2,991.32) scale(0.958,1)" font-size="31.3" text-anchor="start">4</text>
<text transform="translate(753.2,924.78) scale(0.958,1)" font-size="31.3" text-anchor="start">6</text>
<text transform="translate(753.2,858.24) scale(0.958,1)" font-size="31.3" text-anchor="start">8</text>
<text transform="translate(753.2,791.7) scale(0.958,1)" font-size="31.3" text-anchor="start">10</text>
<text transform="translate(753.2,725.16) scale(0.958,1)" font-size="31.3" text-anchor="start">12</text>
<text transform="translate(753.2,658.62) scale(0.958,1)" font-size="31.3" text-anchor="start">14</text>
<text transform="translate(120.2,1145.8) scale(0.958,1)" font-size="31.3" text-anchor="middle">0</text>
<text transform="translate(197.93,1145.8) scale(0.958,1)" font-size="31.3" text-anchor="middle">5</text>
<text transform="translate(275.65,1145.8) scale(0.958,1)" font-size="31.3" text-anchor="middle">10</text>
<text transform="translate(353.38,1145.8) scale(0.958,1)" font-size="31.3" text-anchor="middle">15</text>
<text transform="translate(431.1,1145.8) scale(0.958,1)" font-size="31.3" text-anchor="middle">20</text>
<text transform="translate(508.82,1145.8) scale(0.958,1)" font-size="31.3" text-anchor="middle">25</text>
<text transform="translate(586.55,1145.8) scale(0.958,1)" font-size="31.3" text-anchor="middle">30</text>
<text transform="translate(664.28,1145.8) scale(0.958,1)" font-size="31.3" text-anchor="middle">35</text>
<text transform="translate(741.2,1145.8) scale(0.958,1)" font-size="31.3" text-anchor="middle">40</text>
<text x="454.3" y="1203.4" font-size="30.5" text-anchor="middle" font-weight="normal" fill="#000" textLength="225.5" lengthAdjust="spacingAndGlyphs">Temperature (K)</text>
<g transform="translate(56.1,984.6) rotate(-90)"><text x="0" y="0" font-size="30.5">C<tspan font-size="35" dy="8.4">mag</tspan><tspan dy="-8.4"> / T (J/mol K</tspan><tspan font-size="25" dy="-13.9">2</tspan><tspan dy="13.9">)</tspan></text></g>
<g transform="translate(814.1,968.6) rotate(-90)"><text x="0" y="0" font-size="30.5">S<tspan font-size="21.5" dy="8.4">mag</tspan><tspan dy="-8.4"> (J/mol K)</tspan></text></g>
<text x="217.8" y="652.2" font-size="30.4">S<tspan font-size="21.5" dy="9.5">mag</tspan><tspan dy="-9.5"> = Rln6</tspan></text>
<text x="289.6" y="798.8" font-size="30.8">Ba<tspan font-size="21.5" dy="9.5">2</tspan><tspan dy="-9.5">Mn(PO</tspan><tspan font-size="21.5" dy="9.5">4</tspan><tspan dy="-9.5">)</tspan><tspan font-size="21.5" dy="9.5">2</tspan></text>
<text x="320.4" y="846.6" font-size="31.2" text-anchor="start" font-weight="normal" fill="#000" >H = 0T</text>
<text x="675" y="746.8" font-size="31" text-anchor="start" font-weight="normal" fill="#000" >(b)</text>
<line x1="497.5" y1="777.5" x2="569" y2="777.5" stroke="#00008B" stroke-width="3.2" />
<circle cx="533" cy="777.5" r="7.9" fill="#00008B"/>
<line x1="499" y1="846.7" x2="567.5" y2="846.7" stroke="#FF8000" stroke-width="3.9" stroke-linecap="round"/>
<text x="576.2" y="788" font-size="30.8">C<tspan font-size="21.5" dy="9.5">mag</tspan></text>
<text x="576.2" y="857.3" font-size="30.8">S<tspan font-size="21.5" dy="9.5">mag</tspan></text>
</g>
<g id="insetB">
<rect x="352.3" y="880.5" width="225" height="178" fill="#E9E9E9" stroke="none"/>
<polyline points="352.3,1034.52 356.05,1032.99 359.8,1031.3 363.55,1029.46 367.3,1027.49 371.05,1025.4 374.8,1023.19 378.55,1020.81 382.3,1018.25 386.05,1015.48 389.8,1012.48 393.55,1009.13 397.3,1005.33 401.05,1001.08 404.8,996.14 408.55,990.44 412.3,983.91 416.05,976.76 419.8,969.37 421.68,965.36 425.43,956.24 428.43,942.56 430.68,935.72 432.18,932.68 433.68,941.8 435.55,966.12 436.3,973.72 438.18,998.8 439.68,1008.68 441.18,1012.76 443.05,1015.9 444.93,1018.21 447.93,1020.92 451.41,1023.36 454.9,1025.4 458.39,1027.21 461.88,1028.8 465.36,1030.16 468.85,1031.03 472.34,1031.83 475.82,1033.25 479.05,1038.32 482.05,1037.18 485.8,1037.18 504.18,1042.12 522.92,1046.68 541.68,1050.86 560.43,1054.66 577.3,1057.7" fill="none" stroke="#1A1AA0" stroke-width="1.1" stroke-linejoin="round" />
<g fill="url(#nav)" stroke="#000060" stroke-width="0.3">
<circle cx="352.3" cy="1034.52" r="2.7"/>
<circle cx="356.05" cy="1032.99" r="2.7"/>
<circle cx="359.8" cy="1031.3" r="2.7"/>
<circle cx="363.55" cy="1029.46" r="2.7"/>
<circle cx="367.3" cy="1027.49" r="2.7"/>
<circle cx="371.05" cy="1025.4" r="2.7"/>
<circle cx="374.8" cy="1023.19" r="2.7"/>
<circle cx="378.55" cy="1020.81" r="2.7"/>
<circle cx="382.3" cy="1018.25" r="2.7"/>
<circle cx="386.05" cy="1015.48" r="2.7"/>
<circle cx="389.8" cy="1012.48" r="2.7"/>
<circle cx="393.55" cy="1009.13" r="2.7"/>
<circle cx="397.3" cy="1005.33" r="2.7"/>
<circle cx="401.05" cy="1001.08" r="2.7"/>
<circle cx="404.8" cy="996.14" r="2.7"/>
<circle cx="408.55" cy="990.44" r="2.7"/>
<circle cx="412.3" cy="983.91" r="2.7"/>
<circle cx="416.05" cy="976.76" r="2.7"/>
<circle cx="419.8" cy="969.37" r="2.7"/>
<circle cx="421.68" cy="965.36" r="2.7"/>
<circle cx="425.43" cy="956.24" r="2.7"/>
<circle cx="428.43" cy="942.56" r="2.7"/>
<circle cx="430.68" cy="935.72" r="2.7"/>
<circle cx="432.18" cy="932.68" r="2.7"/>
<circle cx="433.68" cy="941.8" r="2.7"/>
<circle cx="435.55" cy="966.12" r="2.7"/>
<circle cx="436.3" cy="973.72" r="2.7"/>
<circle cx="438.18" cy="998.8" r="2.7"/>
<circle cx="439.68" cy="1008.68" r="2.7"/>
<circle cx="441.18" cy="1012.76" r="2.7"/>
<circle cx="443.05" cy="1015.9" r="2.7"/>
<circle cx="444.93" cy="1018.21" r="2.7"/>
<circle cx="447.93" cy="1020.92" r="2.7"/>
<circle cx="451.41" cy="1023.36" r="2.7"/>
<circle cx="454.9" cy="1025.4" r="2.7"/>
<circle cx="458.39" cy="1027.21" r="2.7"/>
<circle cx="461.88" cy="1028.8" r="2.7"/>
<circle cx="465.36" cy="1030.16" r="2.7"/>
<circle cx="468.85" cy="1031.03" r="2.7"/>
<circle cx="472.34" cy="1031.83" r="2.7"/>
<circle cx="475.82" cy="1033.25" r="2.7"/>
<circle cx="479.05" cy="1038.32" r="2.7"/>
<circle cx="482.05" cy="1037.18" r="2.7"/>
<circle cx="485.8" cy="1037.18" r="2.7"/>
<circle cx="504.18" cy="1042.12" r="2.7"/>
<circle cx="522.92" cy="1046.68" r="2.7"/>
<circle cx="541.68" cy="1050.86" r="2.7"/>
<circle cx="560.43" cy="1054.66" r="2.7"/>
</g>
<rect x="352.3" y="880.5" width="225" height="178" fill="none" stroke="#333333" stroke-width="1.4"/>
<line x1="352.3" y1="1040.6" x2="355.8" y2="1040.6" stroke="#333333" stroke-width="1.3" />
<line x1="577.3" y1="1040.6" x2="573.8" y2="1040.6" stroke="#333333" stroke-width="1.3" />
<line x1="352.3" y1="1021.6" x2="354.3" y2="1021.6" stroke="#333333" stroke-width="1.3" />
<line x1="577.3" y1="1021.6" x2="575.3" y2="1021.6" stroke="#333333" stroke-width="1.3" />
<line x1="352.3" y1="1002.6" x2="355.8" y2="1002.6" stroke="#333333" stroke-width="1.3" />
<line x1="577.3" y1="1002.6" x2="573.8" y2="1002.6" stroke="#333333" stroke-width="1.3" />
<line x1="352.3" y1="983.6" x2="354.3" y2="983.6" stroke="#333333" stroke-width="1.3" />
<line x1="577.3" y1="983.6" x2="575.3" y2="983.6" stroke="#333333" stroke-width="1.3" />
<line x1="352.3" y1="964.6" x2="355.8" y2="964.6" stroke="#333333" stroke-width="1.3" />
<line x1="577.3" y1="964.6" x2="573.8" y2="964.6" stroke="#333333" stroke-width="1.3" />
<line x1="352.3" y1="945.6" x2="354.3" y2="945.6" stroke="#333333" stroke-width="1.3" />
<line x1="577.3" y1="945.6" x2="575.3" y2="945.6" stroke="#333333" stroke-width="1.3" />
<line x1="352.3" y1="926.6" x2="355.8" y2="926.6" stroke="#333333" stroke-width="1.3" />
<line x1="577.3" y1="926.6" x2="573.8" y2="926.6" stroke="#333333" stroke-width="1.3" />
<line x1="352.3" y1="907.6" x2="354.3" y2="907.6" stroke="#333333" stroke-width="1.3" />
<line x1="577.3" y1="907.6" x2="575.3" y2="907.6" stroke="#333333" stroke-width="1.3" />
<line x1="352.3" y1="888.6" x2="355.8" y2="888.6" stroke="#333333" stroke-width="1.3" />
<line x1="577.3" y1="888.6" x2="573.8" y2="888.6" stroke="#333333" stroke-width="1.3" />
<line x1="371.05" y1="1058.5" x2="371.05" y2="1056.5" stroke="#333333" stroke-width="1.3" />
<line x1="371.05" y1="880.5" x2="371.05" y2="882.5" stroke="#333333" stroke-width="1.3" />
<line x1="389.8" y1="1058.5" x2="389.8" y2="1055" stroke="#333333" stroke-width="1.3" />
<line x1="389.8" y1="880.5" x2="389.8" y2="884" stroke="#333333" stroke-width="1.3" />
<line x1="408.55" y1="1058.5" x2="408.55" y2="1056.5" stroke="#333333" stroke-width="1.3" />
<line x1="408.55" y1="880.5" x2="408.55" y2="882.5" stroke="#333333" stroke-width="1.3" />
<line x1="427.3" y1="1058.5" x2="427.3" y2="1055" stroke="#333333" stroke-width="1.3" />
<line x1="427.3" y1="880.5" x2="427.3" y2="884" stroke="#333333" stroke-width="1.3" />
<line x1="446.05" y1="1058.5" x2="446.05" y2="1056.5" stroke="#333333" stroke-width="1.3" />
<line x1="446.05" y1="880.5" x2="446.05" y2="882.5" stroke="#333333" stroke-width="1.3" />
<line x1="464.8" y1="1058.5" x2="464.8" y2="1055" stroke="#333333" stroke-width="1.3" />
<line x1="464.8" y1="880.5" x2="464.8" y2="884" stroke="#333333" stroke-width="1.3" />
<line x1="483.55" y1="1058.5" x2="483.55" y2="1056.5" stroke="#333333" stroke-width="1.3" />
<line x1="483.55" y1="880.5" x2="483.55" y2="882.5" stroke="#333333" stroke-width="1.3" />
<line x1="502.3" y1="1058.5" x2="502.3" y2="1055" stroke="#333333" stroke-width="1.3" />
<line x1="502.3" y1="880.5" x2="502.3" y2="884" stroke="#333333" stroke-width="1.3" />
<line x1="521.05" y1="1058.5" x2="521.05" y2="1056.5" stroke="#333333" stroke-width="1.3" />
<line x1="521.05" y1="880.5" x2="521.05" y2="882.5" stroke="#333333" stroke-width="1.3" />
<line x1="539.8" y1="1058.5" x2="539.8" y2="1055" stroke="#333333" stroke-width="1.3" />
<line x1="539.8" y1="880.5" x2="539.8" y2="884" stroke="#333333" stroke-width="1.3" />
<line x1="558.55" y1="1058.5" x2="558.55" y2="1056.5" stroke="#333333" stroke-width="1.3" />
<line x1="558.55" y1="880.5" x2="558.55" y2="882.5" stroke="#333333" stroke-width="1.3" />
<text x="347.8" y="1045.5" font-size="15.2" text-anchor="end" font-weight="bold" fill="#000" >5</text>
<text x="347.8" y="1007.5" font-size="15.2" text-anchor="end" font-weight="bold" fill="#000" >10</text>
<text x="347.8" y="969.5" font-size="15.2" text-anchor="end" font-weight="bold" fill="#000" >15</text>
<text x="347.8" y="931.5" font-size="15.2" text-anchor="end" font-weight="bold" fill="#000" >20</text>
<text x="347.8" y="892.4" font-size="15.2" text-anchor="end" font-weight="bold" fill="#000" >25</text>
<text x="352.3" y="1075.6" font-size="17.2" text-anchor="middle" font-weight="bold" fill="#000" >3</text>
<text x="389.8" y="1075.6" font-size="17.2" text-anchor="middle" font-weight="bold" fill="#000" >4</text>
<text x="427.3" y="1075.6" font-size="17.2" text-anchor="middle" font-weight="bold" fill="#000" >5</text>
<text x="464.8" y="1075.6" font-size="17.2" text-anchor="middle" font-weight="bold" fill="#000" >6</text>
<text x="502.3" y="1075.6" font-size="17.2" text-anchor="middle" font-weight="bold" fill="#000" >7</text>
<text x="539.8" y="1075.6" font-size="17.2" text-anchor="middle" font-weight="bold" fill="#000" >8</text>
<text x="577.3" y="1075.6" font-size="17.2" text-anchor="middle" font-weight="bold" fill="#000" >9</text>
<text x="461.8" y="1098.6" font-size="16.8" text-anchor="middle" font-weight="bold" fill="#000" >T (K)</text>
<g transform="translate(308.2,1034.3) rotate(-90) scale(1.13,1)"><text x="0" y="0" font-size="15.4" font-weight="bold">C<tspan font-size="16.4" dy="4.3">mag</tspan><tspan dy="-4.3"> (J/mol K)</tspan></text></g>
<text x="406" y="899.8" font-size="16.2" font-weight="bold"><tspan font-style="italic">T</tspan><tspan font-style="italic" font-size="11.5" dy="4">N</tspan><tspan dy="-4"> = 5 K</tspan></text>
<text x="480" y="970" font-size="15.6" text-anchor="start" font-weight="bold" fill="#000" >H = 0T</text>
<line x1="432.2" y1="907.2" x2="432.8" y2="920" stroke="#000" stroke-width="1.4" />
<path d="M433.2,927.6 L429.8,917.4 L436.2,917.1 Z" fill="#000"/>
</g>
</svg>
</body></html>
